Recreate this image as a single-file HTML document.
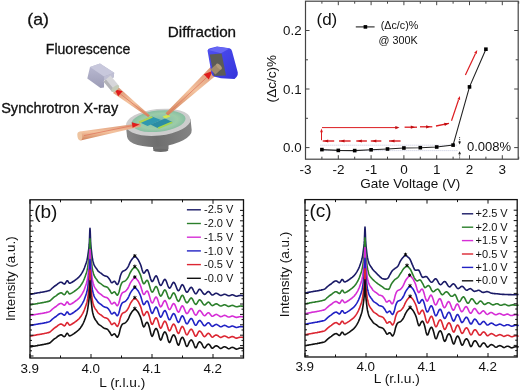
<!DOCTYPE html><html><head><meta charset="utf-8"><style>html,body{margin:0;padding:0;background:#fff;overflow:hidden;width:520px;height:391px;}svg{display:block;will-change:transform;}text{font-family:"Liberation Sans",sans-serif;}</style></head><body><svg width="520" height="391" viewBox="0 0 520 391" font-family="Liberation Sans, sans-serif" fill="#111"><rect width="520" height="391" fill="#fff"/><defs>
<linearGradient id="side" x1="0" x2="1" y1="0" y2="0"><stop offset="0" stop-color="#868686"/><stop offset="0.45" stop-color="#6e6e6e"/><stop offset="1" stop-color="#848484"/></linearGradient>
<linearGradient id="beam" x1="0" x2="0" y1="0" y2="1"><stop offset="0" stop-color="#d89070"/><stop offset="0.5" stop-color="#f4c4a0"/><stop offset="1" stop-color="#d08058"/></linearGradient>
<linearGradient id="blue" x1="0" x2="1" y1="0" y2="1"><stop offset="0" stop-color="#5050f0"/><stop offset="1" stop-color="#3434dc"/></linearGradient>
<linearGradient id="lav" x1="0" x2="0" y1="0" y2="1"><stop offset="0" stop-color="#bcbcd4"/><stop offset="1" stop-color="#9c9cb6"/></linearGradient>
<radialGradient id="disc" cx="0.5" cy="0.5" r="0.5"><stop offset="0" stop-color="#7cb8b0"/><stop offset="0.7" stop-color="#9ccca8"/><stop offset="1" stop-color="#88bea2"/></radialGradient>
</defs><rect x="153" y="139" width="15.5" height="11.5" rx="2" fill="#747474"/><ellipse cx="160.7" cy="150.3" rx="7.7" ry="1.6" fill="#6a6a6a"/><g transform="rotate(-6 158.2 122.3)"><path d="M125.7,122.3 V133.5 A32.5,13.2 0 0 0 190.7,133.5 V122.3 Z" fill="url(#side)"/><ellipse cx="158.2" cy="122.3" rx="32.5" ry="13.3" fill="#cdcdcd"/><ellipse cx="158.6" cy="121.2" rx="27.2" ry="10.6" fill="url(#disc)"/></g><path d="M139,122 L152,116.5 L161,120 L147.5,126 Z" fill="#2f98b0"/><path d="M150.5,124.5 L165,118.5 L172.5,122 L158,128.3 Z" fill="#2a8ca4"/><path d="M138.5,121.6 L151.5,116.2 L153,117.6 L140,123.2 Z" fill="#b0d450"/><path d="M157.5,127.6 L171.5,121.6 L172.8,123 L158.8,129 Z" fill="#a4d44e"/><path d="M162.5,116.5 L168,114.5 L170.5,116.5 L165,118.5 Z" fill="#d4e84c"/><path d="M80,131.6 L140,123.3 L141,126.6 L80.5,140.4 Z" fill="url(#beam)"/><ellipse cx="79.8" cy="136" rx="2.4" ry="4.4" transform="rotate(-8 79.8 136)" fill="#eec4a0"/><path d="M84,135.6 L133,125.5" stroke="#e07860" stroke-width="0.8"/><path d="M139.5,124.6 L131.8,122.3 L132.6,127.8 Z" fill="#e01c1c"/><path d="M113,93 L118.5,87.3 L150,115.5 L148,117 Z" fill="url(#beam)"/><path d="M116,90.5 L148.5,116" stroke="#e07860" stroke-width="0.8"/><path d="M114.5,89.3 L122.6,91.3 L118.2,96.3 Z" fill="#e01c1c"/><path d="M165.5,113.2 L211.8,65.8 L219.2,72.8 L168,115.6 Z" fill="url(#beam)"/><path d="M167,114.5 L215.5,69.2" stroke="#e07860" stroke-width="0.8"/><path d="M212.5,71 L203.8,74.2 L208.8,79.6 Z" fill="#e01c1c"/><path d="M90,67 L100,63.5 L114.2,72.8 L113.6,77.6 L104.2,80 L104,87.6 L100.5,88 L87.3,78.6 Z" fill="url(#lav)"/><path d="M90,67 L100,63.5 L114.2,72.8 L104,76.6 Z" fill="#c8c8dc"/><path d="M104,76.6 L114.2,72.8 L113.6,77.6 L104.2,80 Z" fill="#c0c0d4"/><path d="M103.5,81.5 L110.5,75.5 L118.8,85.5 L111.8,91.5 Z" fill="#d6d6da"/><path d="M103.5,81.5 L106,79.4 L114.2,89.4 L111.8,91.5 Z" fill="#b4b4b8"/><ellipse cx="115.3" cy="88.5" rx="4.6" ry="2.2" transform="rotate(-40 115.3 88.5)" fill="#c4ccb8"/><path d="M207.5,50.5 Q208,48.8 210,48.2 L217,46.5 L229.5,48.3 Q231.5,48.8 232,51 L237.8,72.5 Q238.2,75 236.5,77 L234.5,79 L221,78.2 L213.8,76.5 Q212,75.5 211.5,73.5 Z" fill="url(#blue)"/><path d="M208.2,50 L217,46.7 L229.5,48.4 L221,53.2 Z" fill="#6767f4"/><path d="M209.6,54.4 L221.6,53.6 L226,75.4 L214,76 Z" fill="#5c5c56"/><path d="M210.4,69.4 L216.6,63.9 L221.4,69.1 L215.4,74.6 Z" fill="#a08a6c"/><ellipse cx="219" cy="66.5" rx="3.6" ry="1.8" transform="rotate(47 219 66.5)" fill="#b09a7a"/><g stroke="#111" stroke-width="0.3"><text x="27.3" y="24.6" font-size="17" textLength="21.6" lengthAdjust="spacingAndGlyphs">(a)</text><text x="45.8" y="54.2" font-size="14.5" textLength="84.6" lengthAdjust="spacingAndGlyphs">Fluorescence</text><text x="167.8" y="37.3" font-size="14.5" textLength="68.3" lengthAdjust="spacingAndGlyphs">Diffraction</text><text x="1.2" y="113" font-size="14.5" textLength="117" lengthAdjust="spacingAndGlyphs">Synchrotron X-ray</text></g><path d="M305.5,159.2 V155.2 M305.5,1.2 V5.2 M321.9,159.2 V156.7 M321.9,1.2 V3.7 M338.3,159.2 V155.2 M338.3,1.2 V5.2 M354.7,159.2 V156.7 M354.7,1.2 V3.7 M371.1,159.2 V155.2 M371.1,1.2 V5.2 M387.5,159.2 V156.7 M387.5,1.2 V3.7 M403.9,159.2 V155.2 M403.9,1.2 V5.2 M420.3,159.2 V156.7 M420.3,1.2 V3.7 M436.7,159.2 V155.2 M436.7,1.2 V5.2 M453.1,159.2 V156.7 M453.1,1.2 V3.7 M469.5,159.2 V155.2 M469.5,1.2 V5.2 M485.9,159.2 V156.7 M485.9,1.2 V3.7 M502.3,159.2 V155.2 M502.3,1.2 V5.2 M518.7,159.2 V156.7 M518.7,1.2 V3.7 M305.5,147.6 h4 M518.2,147.6 h-4 M305.5,118.3 h2.5 M518.2,118.3 h-2.5 M305.5,89.0 h4 M518.2,89.0 h-4 M305.5,59.8 h2.5 M518.2,59.8 h-2.5 M305.5,30.5 h4 M518.2,30.5 h-4" stroke="#444" stroke-width="1" fill="none"/><rect x="305.5" y="1.2" width="212.70000000000005" height="158.0" fill="none" stroke="#444" stroke-width="1.2"/><text x="305.6" y="173.7" text-anchor="middle" font-size="13.5">-3</text><text x="338.4" y="173.7" text-anchor="middle" font-size="13.5">-2</text><text x="371.2" y="173.7" text-anchor="middle" font-size="13.5">-1</text><text x="403.9" y="173.7" text-anchor="middle" font-size="13.5">0</text><text x="436.7" y="173.7" text-anchor="middle" font-size="13.5">1</text><text x="469.5" y="173.7" text-anchor="middle" font-size="13.5">2</text><text x="502.3" y="173.7" text-anchor="middle" font-size="13.5">3</text><text x="301.6" y="152.4" text-anchor="end" font-size="13.3">0.0</text><text x="301.6" y="93.8" text-anchor="end" font-size="13.3">0.1</text><text x="301.6" y="35.3" text-anchor="end" font-size="13.3">0.2</text><text x="360.2" y="188" font-size="13.4" textLength="100" lengthAdjust="spacingAndGlyphs">Gate Voltage (V)</text><text transform="translate(275.6,102.4) rotate(-90)" font-size="13.5" textLength="47.6" lengthAdjust="spacingAndGlyphs">(&#916;c/c)%</text><path d="M320.5,145.2 H457 M320.5,150.6 H458.5" stroke="#9098c0" stroke-width="0.7" stroke-dasharray="0.8,1.2"/><path d="M322,127.6 H398" stroke="#dc1c20" stroke-width="1"/><path d="M399.5,127.6 L395.3,129.2 L395.3,126.0 Z" fill="#c00c10"/><path d="M404.6,127.2 H417" stroke="#dc1c20" stroke-width="1.3"/><path d="M415.0,127.2 L410.8,128.8 L410.8,125.6 Z" fill="#c00c10"/><path d="M420,126.8 H432.3" stroke="#dc1c20" stroke-width="1.3"/><path d="M430.3,126.8 L426.1,128.4 L426.1,125.2 Z" fill="#c00c10"/><path d="M436,126 L449,123.4" stroke="#dc1c20" stroke-width="1.3"/><path d="M448.5,123.5 L444.8,125.9 L444.1,122.8 Z" fill="#c00c10"/><path d="M451.5,120.8 L458.5,100" stroke="#dc1c20" stroke-width="1.2"/><path d="M460.0,96.0 L460.1,100.1 L457.4,99.2 Z" fill="#dc1c20"/><path d="M465.4,74.9 L475.5,53.5" stroke="#dc1c20" stroke-width="1.2"/><path d="M477.2,50.0 L476.8,54.1 L474.2,52.8 Z" fill="#dc1c20"/><path d="M321.5,140.2 V132" stroke="#dc1c20" stroke-width="1"/><path d="M321.5,128.6 L322.9,132.3 L320.1,132.3 Z" fill="#dc1c20"/><path d="M322.7,141 H334.2" stroke="#dc1c20" stroke-width="1.4"/><path d="M323.9,141.0 L328.2,139.4 L328.2,142.6 Z" fill="#c00c10"/><path d="M339,141 H350.6" stroke="#dc1c20" stroke-width="1.4"/><path d="M340.2,141.0 L344.5,139.4 L344.5,142.6 Z" fill="#c00c10"/><path d="M356.3,141 H366.9" stroke="#dc1c20" stroke-width="1.4"/><path d="M357.5,141.0 L361.8,139.4 L361.8,142.6 Z" fill="#c00c10"/><path d="M370.8,141 H381.3" stroke="#dc1c20" stroke-width="1.4"/><path d="M372.0,141.0 L376.3,139.4 L376.3,142.6 Z" fill="#c00c10"/><path d="M389,141 H400.6" stroke="#dc1c20" stroke-width="1.4"/><path d="M390.2,141.0 L394.5,139.4 L394.5,142.6 Z" fill="#c00c10"/><path d="M321.9,149.6 L338.3,150.4 L354.7,150.6 L371.1,149.8 L387.5,149.0 L403.9,148.0 L420.3,147.7 L436.7,147.0 L453.1,145.1 L469.5,86.9 L485.9,49.2" stroke="#222" stroke-width="1.1" fill="none"/><rect x="320.1" y="147.8" width="3.6" height="3.6" fill="#000"/><rect x="336.5" y="148.6" width="3.6" height="3.6" fill="#000"/><rect x="352.9" y="148.8" width="3.6" height="3.6" fill="#000"/><rect x="369.3" y="148.0" width="3.6" height="3.6" fill="#000"/><rect x="385.7" y="147.2" width="3.6" height="3.6" fill="#000"/><rect x="402.1" y="146.2" width="3.6" height="3.6" fill="#000"/><rect x="418.5" y="145.9" width="3.6" height="3.6" fill="#000"/><rect x="434.9" y="145.2" width="3.6" height="3.6" fill="#000"/><rect x="451.3" y="143.3" width="3.6" height="3.6" fill="#000"/><rect x="467.7" y="85.1" width="3.6" height="3.6" fill="#000"/><rect x="484.1" y="47.4" width="3.6" height="3.6" fill="#000"/><path d="M459.6,137 V142" stroke="#222" stroke-width="0.8" stroke-dasharray="1.2,0.8"/><path d="M458.2,141.6 L461,141.6 L459.6,144.6 Z" fill="#222"/><path d="M459.6,158.5 V153.8" stroke="#222" stroke-width="0.8" stroke-dasharray="1.2,0.8"/><path d="M458.2,154.2 L461,154.2 L459.6,151.2 Z" fill="#222"/><text x="466.9" y="150.8" font-size="13" textLength="44.2" lengthAdjust="spacingAndGlyphs">0.008%</text><path d="M355.8,26.9 H374.6" stroke="#222" stroke-width="1.1"/><rect x="363.6" y="25.1" width="3.6" height="3.6" fill="#000"/><text x="380.8" y="28.6" font-size="11" textLength="37.5" lengthAdjust="spacingAndGlyphs">(&#916;c/c)%</text><text x="378.5" y="43.7" font-size="11" textLength="39.2" lengthAdjust="spacingAndGlyphs">@ 300K</text><text x="316.5" y="24.5" font-size="17">(d)</text><g fill="none" stroke-width="1.6" stroke-linejoin="round"><path d="M30.0,294.4 L30.8,294.2 L31.6,294.1 L32.4,293.9 L33.2,293.7 L34.0,293.6 L34.8,293.4 L35.6,293.3 L36.4,293.1 L37.2,293.0 L38.0,292.8 L38.8,292.7 L39.6,292.6 L40.4,292.4 L41.2,292.3 L42.0,292.2 L42.8,292.0 L43.6,291.9 L44.4,291.7 L45.2,291.5 L46.0,291.4 L46.8,291.2 L47.6,291.0 L48.4,290.8 L49.2,290.6 L50.0,290.2 L50.8,289.5 L51.6,288.7 L52.4,288.0 L53.2,287.3 L54.0,286.6 L54.8,286.0 L55.6,285.5 L56.4,285.0 L57.2,284.3 L58.0,283.6 L58.8,283.1 L59.6,282.6 L60.4,282.3 L61.2,282.2 L62.0,282.5 L62.8,283.1 L63.6,283.8 L64.4,284.1 L65.2,283.5 L66.0,282.1 L66.8,280.8 L67.6,280.8 L68.4,282.0 L69.2,283.1 L70.0,283.3 L70.8,282.9 L71.6,282.5 L72.4,282.0 L73.2,281.5 L74.0,281.0 L74.8,280.4 L75.6,279.8 L76.4,279.2 L77.2,278.6 L78.0,277.9 L78.8,277.2 L79.6,276.3 L80.4,275.3 L81.2,274.2 L82.0,272.9 L82.8,271.5 L83.6,269.9 L84.4,268.0 L85.2,265.8 L86.0,263.5 L86.2,262.9 L86.4,262.3 L86.6,261.6 L86.8,260.9 L87.0,260.1 L87.2,259.2 L87.4,258.2 L87.6,257.1 L87.8,255.8 L88.0,254.4 L88.2,253.0 L88.4,251.5 L88.6,250.0 L88.8,248.5 L89.0,246.8 L89.2,244.7 L89.4,241.7 L89.6,236.3 L89.8,230.8 L90.0,228.3 L90.2,230.7 L90.4,236.2 L90.6,241.6 L90.8,244.8 L91.0,247.0 L91.2,248.9 L91.4,250.6 L91.6,252.4 L91.8,254.1 L92.0,255.7 L92.2,257.2 L92.4,258.5 L92.6,259.5 L92.8,260.4 L93.0,261.2 L93.2,262.0 L93.4,262.7 L93.6,263.4 L93.8,264.0 L94.0,264.6 L94.6,265.9 L95.2,266.9 L95.8,267.8 L96.4,268.5 L97.0,269.4 L97.6,270.4 L98.2,271.2 L98.8,271.7 L99.4,272.2 L100.0,272.6 L100.6,272.9 L101.2,273.4 L101.8,273.9 L102.4,274.4 L103.0,274.9 L103.6,275.3 L104.2,275.6 L104.8,275.9 L105.4,276.0 L106.0,276.2 L106.6,276.3 L107.2,276.6 L107.8,277.1 L108.4,277.7 L109.0,278.6 L109.6,279.4 L110.2,280.4 L110.8,281.6 L111.4,282.6 L112.0,282.8 L112.6,282.4 L113.2,281.9 L113.8,281.4 L114.4,281.2 L115.0,281.6 L115.6,282.5 L116.2,283.5 L116.8,284.3 L117.4,284.6 L118.0,283.9 L118.6,282.5 L119.2,280.9 L119.8,278.3 L120.4,275.8 L121.0,274.2 L121.6,272.8 L122.2,271.8 L122.8,271.3 L123.4,271.0 L124.0,270.8 L124.6,270.6 L125.2,270.2 L125.8,269.7 L126.4,269.1 L127.0,268.4 L127.6,267.5 L128.2,266.6 L128.8,265.3 L129.4,263.9 L130.0,262.5 L130.6,261.4 L131.2,260.4 L131.8,259.5 L132.4,258.7 L133.0,258.0 L133.6,257.4 L134.2,256.9 L134.8,256.6 L135.4,256.8 L136.0,257.2 L136.6,257.8 L137.2,258.5 L137.8,259.2 L138.4,260.1 L139.0,261.3 L139.6,262.5 L140.2,263.8 L140.8,265.3 L141.4,267.3 L142.0,269.4 L142.6,271.3 L143.2,272.7 L143.8,273.2 L144.4,272.9 L145.0,272.1 L145.6,271.2 L146.2,270.3 L146.8,269.8 L147.4,269.8 L148.0,270.7 L148.6,272.2 L149.2,274.1 L149.8,276.2 L150.4,278.2 L151.0,279.9 L151.6,281.1 L152.2,281.6 L152.8,281.2 L153.4,280.3 L154.0,279.0 L154.6,277.7 L155.2,276.6 L155.8,275.9 L156.4,275.9 L157.0,276.8 L157.6,278.2 L158.2,280.0 L158.8,281.9 L159.4,283.6 L160.0,284.9 L160.6,285.5 L161.2,285.3 L161.8,284.4 L162.4,283.3 L163.0,282.0 L163.6,280.7 L164.2,279.8 L164.8,279.3 L165.4,279.6 L166.0,280.6 L166.6,282.0 L167.2,283.7 L167.8,285.5 L168.4,286.9 L169.0,287.9 L169.6,288.2 L170.2,287.8 L170.8,286.9 L171.4,285.7 L172.0,284.4 L172.6,283.3 L173.2,282.5 L173.8,282.3 L174.4,282.8 L175.0,283.8 L175.6,285.2 L176.2,286.8 L176.8,288.4 L177.4,289.7 L178.0,290.5 L178.6,290.8 L179.2,290.2 L179.8,289.1 L180.4,287.7 L181.0,286.3 L181.6,285.2 L182.2,284.6 L182.8,284.9 L183.4,285.7 L184.0,287.0 L184.6,288.4 L185.2,289.9 L185.8,291.2 L186.4,292.0 L187.0,292.3 L187.6,291.9 L188.2,291.2 L188.8,290.2 L189.4,289.2 L190.0,288.3 L190.6,287.6 L191.2,287.3 L191.8,287.6 L192.4,288.4 L193.0,289.5 L193.6,290.8 L194.2,292.0 L194.8,293.0 L195.4,293.7 L196.0,293.8 L196.6,293.3 L197.2,292.4 L197.8,291.3 L198.4,290.3 L199.0,289.5 L199.6,289.2 L200.2,289.4 L200.8,290.0 L201.4,290.7 L202.0,291.6 L202.6,292.6 L203.2,293.4 L203.8,294.0 L204.4,294.4 L205.0,294.3 L205.6,293.9 L206.2,293.3 L206.8,292.6 L207.4,292.0 L208.0,291.6 L208.6,291.5 L209.2,291.9 L209.8,292.5 L210.4,293.3 L211.0,294.1 L211.6,294.7 L212.2,295.0 L212.8,294.9 L213.4,294.7 L214.0,294.3 L214.6,293.9 L215.2,293.5 L215.8,293.3 L216.4,293.2 L217.0,293.4 L217.6,293.7 L218.2,294.1 L218.8,294.5 L219.4,294.9 L220.0,295.2 L220.6,295.4 L221.2,295.4 L221.8,295.2 L222.4,294.9 L223.0,294.7 L223.6,294.4 L224.2,294.2 L224.8,294.2 L225.4,294.4 L226.0,294.6 L226.6,294.9 L227.2,295.3 L227.8,295.6 L228.4,295.8 L229.0,295.8 L229.6,295.7 L230.2,295.4 L230.8,295.2 L231.4,295.0 L232.0,294.8 L232.6,294.8 L233.2,295.0 L233.8,295.2 L234.4,295.5 L235.0,295.8 L235.6,296.0 L236.2,296.2 L236.8,296.2 L237.4,296.1 L238.0,295.9 L238.6,295.8 L239.2,295.6 L239.8,295.5 L240.4,295.4 L241.0,295.4 L241.6,295.5 L242.2,295.5 L242.8,295.6 L243.4,295.8 L243.5,295.8" stroke="#1a1a66"/><path d="M30.0,305.0 L30.8,304.8 L31.6,304.7 L32.4,304.5 L33.2,304.3 L34.0,304.2 L34.8,304.0 L35.6,303.9 L36.4,303.7 L37.2,303.6 L38.0,303.4 L38.8,303.3 L39.6,303.2 L40.4,303.0 L41.2,302.9 L42.0,302.8 L42.8,302.6 L43.6,302.5 L44.4,302.3 L45.2,302.1 L46.0,302.0 L46.8,301.8 L47.6,301.6 L48.4,301.4 L49.2,301.2 L50.0,300.8 L50.8,300.1 L51.6,299.3 L52.4,298.6 L53.2,297.9 L54.0,297.2 L54.8,296.6 L55.6,296.1 L56.4,295.6 L57.2,294.9 L58.0,294.2 L58.8,293.7 L59.6,293.2 L60.4,292.9 L61.2,292.8 L62.0,293.1 L62.8,293.8 L63.6,294.4 L64.4,294.7 L65.2,294.1 L66.0,292.7 L66.8,291.4 L67.6,291.4 L68.4,292.6 L69.2,293.7 L70.0,293.9 L70.8,293.5 L71.6,293.1 L72.4,292.6 L73.2,292.1 L74.0,291.6 L74.8,291.0 L75.6,290.4 L76.4,289.8 L77.2,289.2 L78.0,288.5 L78.8,287.8 L79.6,286.9 L80.4,285.9 L81.2,284.8 L82.0,283.5 L82.8,282.1 L83.6,280.5 L84.4,278.6 L85.2,276.4 L86.0,274.1 L86.2,273.5 L86.4,272.9 L86.6,272.2 L86.8,271.5 L87.0,270.7 L87.2,269.8 L87.4,268.8 L87.6,267.7 L87.8,266.4 L88.0,265.0 L88.2,263.6 L88.4,262.1 L88.6,260.6 L88.8,259.1 L89.0,257.4 L89.2,255.3 L89.4,252.3 L89.6,246.9 L89.8,241.4 L90.0,238.9 L90.2,241.3 L90.4,246.8 L90.6,252.2 L90.8,255.4 L91.0,257.6 L91.2,259.5 L91.4,261.2 L91.6,263.0 L91.8,264.7 L92.0,266.3 L92.2,267.8 L92.4,269.1 L92.6,270.1 L92.8,271.0 L93.0,271.8 L93.2,272.6 L93.4,273.3 L93.6,274.0 L93.8,274.6 L94.0,275.2 L94.6,276.5 L95.2,277.5 L95.8,278.4 L96.4,279.1 L97.0,280.0 L97.6,281.0 L98.2,281.8 L98.8,282.3 L99.4,282.8 L100.0,283.2 L100.6,283.5 L101.2,284.0 L101.8,284.5 L102.4,285.0 L103.0,285.5 L103.6,285.9 L104.2,286.2 L104.8,286.5 L105.4,286.6 L106.0,286.8 L106.6,286.9 L107.2,287.2 L107.8,287.7 L108.4,288.3 L109.0,289.2 L109.6,290.0 L110.2,291.0 L110.8,292.2 L111.4,293.2 L112.0,293.4 L112.6,293.0 L113.2,292.5 L113.8,292.0 L114.4,291.8 L115.0,292.2 L115.6,293.1 L116.2,294.1 L116.8,294.9 L117.4,295.2 L118.0,294.5 L118.6,293.1 L119.2,291.5 L119.8,288.9 L120.4,286.4 L121.0,284.8 L121.6,283.4 L122.2,282.4 L122.8,281.9 L123.4,281.6 L124.0,281.4 L124.6,281.2 L125.2,280.8 L125.8,280.3 L126.4,279.7 L127.0,279.0 L127.6,278.1 L128.2,277.2 L128.8,275.9 L129.4,274.5 L130.0,273.1 L130.6,272.0 L131.2,271.0 L131.8,270.1 L132.4,269.3 L133.0,268.6 L133.6,268.0 L134.2,267.5 L134.8,267.2 L135.4,267.4 L136.0,267.8 L136.6,268.4 L137.2,269.1 L137.8,269.8 L138.4,270.7 L139.0,271.9 L139.6,273.1 L140.2,274.4 L140.8,275.9 L141.4,277.9 L142.0,280.0 L142.6,281.9 L143.2,283.3 L143.8,283.8 L144.4,283.5 L145.0,282.7 L145.6,281.8 L146.2,280.9 L146.8,280.4 L147.4,280.4 L148.0,281.3 L148.6,282.8 L149.2,284.7 L149.8,286.8 L150.4,288.8 L151.0,290.5 L151.6,291.7 L152.2,292.2 L152.8,291.8 L153.4,290.9 L154.0,289.6 L154.6,288.3 L155.2,287.2 L155.8,286.5 L156.4,286.5 L157.0,287.4 L157.6,288.8 L158.2,290.6 L158.8,292.5 L159.4,294.2 L160.0,295.5 L160.6,296.1 L161.2,295.9 L161.8,295.0 L162.4,293.9 L163.0,292.6 L163.6,291.3 L164.2,290.4 L164.8,289.9 L165.4,290.2 L166.0,291.2 L166.6,292.6 L167.2,294.3 L167.8,296.1 L168.4,297.5 L169.0,298.5 L169.6,298.8 L170.2,298.4 L170.8,297.5 L171.4,296.3 L172.0,295.0 L172.6,293.9 L173.2,293.1 L173.8,292.9 L174.4,293.4 L175.0,294.4 L175.6,295.8 L176.2,297.4 L176.8,299.0 L177.4,300.3 L178.0,301.1 L178.6,301.4 L179.2,300.8 L179.8,299.7 L180.4,298.3 L181.0,296.9 L181.6,295.8 L182.2,295.2 L182.8,295.5 L183.4,296.3 L184.0,297.6 L184.6,299.1 L185.2,300.5 L185.8,301.8 L186.4,302.6 L187.0,302.9 L187.6,302.5 L188.2,301.8 L188.8,300.8 L189.4,299.8 L190.0,298.9 L190.6,298.2 L191.2,297.9 L191.8,298.2 L192.4,299.0 L193.0,300.1 L193.6,301.4 L194.2,302.6 L194.8,303.6 L195.4,304.3 L196.0,304.4 L196.6,303.9 L197.2,303.0 L197.8,301.9 L198.4,300.9 L199.0,300.1 L199.6,299.8 L200.2,300.0 L200.8,300.6 L201.4,301.3 L202.0,302.2 L202.6,303.2 L203.2,304.0 L203.8,304.6 L204.4,305.0 L205.0,304.9 L205.6,304.5 L206.2,303.9 L206.8,303.2 L207.4,302.6 L208.0,302.2 L208.6,302.1 L209.2,302.5 L209.8,303.1 L210.4,303.9 L211.0,304.7 L211.6,305.3 L212.2,305.6 L212.8,305.5 L213.4,305.3 L214.0,304.9 L214.6,304.5 L215.2,304.1 L215.8,303.9 L216.4,303.8 L217.0,304.0 L217.6,304.3 L218.2,304.7 L218.8,305.1 L219.4,305.5 L220.0,305.8 L220.6,306.0 L221.2,306.0 L221.8,305.8 L222.4,305.5 L223.0,305.3 L223.6,305.0 L224.2,304.8 L224.8,304.8 L225.4,305.0 L226.0,305.2 L226.6,305.5 L227.2,305.9 L227.8,306.2 L228.4,306.4 L229.0,306.4 L229.6,306.3 L230.2,306.0 L230.8,305.8 L231.4,305.6 L232.0,305.4 L232.6,305.4 L233.2,305.6 L233.8,305.8 L234.4,306.1 L235.0,306.4 L235.6,306.6 L236.2,306.8 L236.8,306.8 L237.4,306.7 L238.0,306.5 L238.6,306.4 L239.2,306.2 L239.8,306.1 L240.4,306.0 L241.0,306.0 L241.6,306.1 L242.2,306.1 L242.8,306.2 L243.4,306.4 L243.5,306.4" stroke="#2b7f2b"/><path d="M30.0,315.6 L30.8,315.4 L31.6,315.3 L32.4,315.1 L33.2,314.9 L34.0,314.8 L34.8,314.6 L35.6,314.5 L36.4,314.3 L37.2,314.2 L38.0,314.0 L38.8,313.9 L39.6,313.8 L40.4,313.6 L41.2,313.5 L42.0,313.4 L42.8,313.2 L43.6,313.1 L44.4,312.9 L45.2,312.7 L46.0,312.6 L46.8,312.4 L47.6,312.2 L48.4,312.0 L49.2,311.8 L50.0,311.4 L50.8,310.7 L51.6,309.9 L52.4,309.2 L53.2,308.5 L54.0,307.8 L54.8,307.2 L55.6,306.7 L56.4,306.2 L57.2,305.5 L58.0,304.8 L58.8,304.3 L59.6,303.8 L60.4,303.5 L61.2,303.4 L62.0,303.7 L62.8,304.3 L63.6,305.0 L64.4,305.3 L65.2,304.7 L66.0,303.3 L66.8,302.0 L67.6,302.0 L68.4,303.2 L69.2,304.3 L70.0,304.5 L70.8,304.1 L71.6,303.7 L72.4,303.2 L73.2,302.7 L74.0,302.2 L74.8,301.6 L75.6,301.0 L76.4,300.4 L77.2,299.8 L78.0,299.1 L78.8,298.4 L79.6,297.5 L80.4,296.5 L81.2,295.4 L82.0,294.1 L82.8,292.7 L83.6,291.1 L84.4,289.2 L85.2,287.0 L86.0,284.7 L86.2,284.1 L86.4,283.5 L86.6,282.8 L86.8,282.1 L87.0,281.3 L87.2,280.4 L87.4,279.4 L87.6,278.3 L87.8,277.0 L88.0,275.6 L88.2,274.2 L88.4,272.7 L88.6,271.2 L88.8,269.7 L89.0,268.0 L89.2,265.9 L89.4,262.9 L89.6,257.5 L89.8,252.0 L90.0,249.5 L90.2,251.9 L90.4,257.4 L90.6,262.8 L90.8,266.0 L91.0,268.2 L91.2,270.1 L91.4,271.8 L91.6,273.6 L91.8,275.3 L92.0,276.9 L92.2,278.4 L92.4,279.7 L92.6,280.7 L92.8,281.6 L93.0,282.4 L93.2,283.2 L93.4,283.9 L93.6,284.6 L93.8,285.2 L94.0,285.8 L94.6,287.1 L95.2,288.1 L95.8,289.0 L96.4,289.7 L97.0,290.6 L97.6,291.6 L98.2,292.4 L98.8,292.9 L99.4,293.4 L100.0,293.8 L100.6,294.1 L101.2,294.6 L101.8,295.1 L102.4,295.6 L103.0,296.1 L103.6,296.5 L104.2,296.8 L104.8,297.1 L105.4,297.2 L106.0,297.4 L106.6,297.5 L107.2,297.8 L107.8,298.3 L108.4,298.9 L109.0,299.8 L109.6,300.6 L110.2,301.6 L110.8,302.8 L111.4,303.8 L112.0,304.0 L112.6,303.6 L113.2,303.1 L113.8,302.6 L114.4,302.4 L115.0,302.8 L115.6,303.7 L116.2,304.7 L116.8,305.5 L117.4,305.8 L118.0,305.1 L118.6,303.7 L119.2,302.1 L119.8,299.5 L120.4,297.0 L121.0,295.4 L121.6,294.0 L122.2,293.0 L122.8,292.5 L123.4,292.2 L124.0,292.0 L124.6,291.8 L125.2,291.4 L125.8,290.9 L126.4,290.3 L127.0,289.6 L127.6,288.7 L128.2,287.8 L128.8,286.5 L129.4,285.1 L130.0,283.7 L130.6,282.6 L131.2,281.6 L131.8,280.7 L132.4,279.9 L133.0,279.2 L133.6,278.6 L134.2,278.1 L134.8,277.8 L135.4,278.0 L136.0,278.4 L136.6,279.0 L137.2,279.7 L137.8,280.4 L138.4,281.3 L139.0,282.5 L139.6,283.7 L140.2,285.0 L140.8,286.5 L141.4,288.5 L142.0,290.6 L142.6,292.5 L143.2,294.0 L143.8,294.5 L144.4,294.2 L145.0,293.4 L145.6,292.4 L146.2,291.5 L146.8,291.0 L147.4,291.0 L148.0,291.9 L148.6,293.4 L149.2,295.3 L149.8,297.4 L150.4,299.5 L151.0,301.3 L151.6,302.5 L152.2,303.0 L152.8,302.6 L153.4,301.6 L154.0,300.3 L154.6,298.9 L155.2,297.8 L155.8,297.1 L156.4,297.1 L157.0,298.0 L157.6,299.4 L158.2,301.2 L158.8,303.2 L159.4,304.9 L160.0,306.3 L160.6,306.9 L161.2,306.6 L161.8,305.8 L162.4,304.5 L163.0,303.2 L163.6,301.9 L164.2,301.0 L164.8,300.5 L165.4,300.8 L166.0,301.8 L166.6,303.2 L167.2,304.9 L167.8,306.7 L168.4,308.3 L169.0,309.3 L169.6,309.6 L170.2,309.1 L170.8,308.1 L171.4,306.9 L172.0,305.6 L172.6,304.5 L173.2,303.7 L173.8,303.5 L174.4,304.0 L175.0,305.0 L175.6,306.4 L176.2,308.0 L176.8,309.6 L177.4,311.0 L178.0,311.9 L178.6,312.2 L179.2,311.6 L179.8,310.4 L180.4,308.9 L181.0,307.5 L181.6,306.4 L182.2,305.8 L182.8,306.1 L183.4,306.9 L184.0,308.2 L184.6,309.6 L185.2,311.2 L185.8,312.5 L186.4,313.4 L187.0,313.6 L187.6,313.3 L188.2,312.5 L188.8,311.5 L189.4,310.4 L190.0,309.5 L190.6,308.8 L191.2,308.5 L191.8,308.8 L192.4,309.6 L193.0,310.7 L193.6,312.0 L194.2,313.3 L194.8,314.3 L195.4,315.0 L196.0,315.1 L196.6,314.6 L197.2,313.6 L197.8,312.5 L198.4,311.5 L199.0,310.7 L199.6,310.4 L200.2,310.6 L200.8,311.2 L201.4,311.9 L202.0,312.8 L202.6,313.8 L203.2,314.7 L203.8,315.3 L204.4,315.7 L205.0,315.6 L205.6,315.2 L206.2,314.5 L206.8,313.8 L207.4,313.2 L208.0,312.8 L208.6,312.7 L209.2,313.1 L209.8,313.7 L210.4,314.5 L211.0,315.3 L211.6,316.0 L212.2,316.3 L212.8,316.2 L213.4,315.9 L214.0,315.5 L214.6,315.1 L215.2,314.7 L215.8,314.5 L216.4,314.4 L217.0,314.6 L217.6,314.9 L218.2,315.3 L218.8,315.7 L219.4,316.1 L220.0,316.5 L220.6,316.6 L221.2,316.6 L221.8,316.4 L222.4,316.2 L223.0,315.9 L223.6,315.6 L224.2,315.4 L224.8,315.4 L225.4,315.6 L226.0,315.8 L226.6,316.1 L227.2,316.5 L227.8,316.8 L228.4,317.0 L229.0,317.0 L229.6,316.9 L230.2,316.7 L230.8,316.4 L231.4,316.2 L232.0,316.0 L232.6,316.0 L233.2,316.2 L233.8,316.4 L234.4,316.7 L235.0,317.0 L235.6,317.3 L236.2,317.4 L236.8,317.4 L237.4,317.3 L238.0,317.1 L238.6,317.0 L239.2,316.8 L239.8,316.7 L240.4,316.6 L241.0,316.6 L241.6,316.7 L242.2,316.7 L242.8,316.8 L243.4,317.0 L243.5,317.0" stroke="#d62ed6"/><path d="M30.0,325.6 L30.8,325.4 L31.6,325.3 L32.4,325.1 L33.2,324.9 L34.0,324.8 L34.8,324.6 L35.6,324.5 L36.4,324.3 L37.2,324.2 L38.0,324.0 L38.8,323.9 L39.6,323.8 L40.4,323.6 L41.2,323.5 L42.0,323.4 L42.8,323.2 L43.6,323.1 L44.4,322.9 L45.2,322.7 L46.0,322.6 L46.8,322.4 L47.6,322.2 L48.4,322.0 L49.2,321.8 L50.0,321.4 L50.8,320.7 L51.6,319.9 L52.4,319.2 L53.2,318.5 L54.0,317.8 L54.8,317.2 L55.6,316.7 L56.4,316.2 L57.2,315.5 L58.0,314.8 L58.8,314.3 L59.6,313.8 L60.4,313.5 L61.2,313.4 L62.0,313.7 L62.8,314.3 L63.6,315.0 L64.4,315.3 L65.2,314.7 L66.0,313.3 L66.8,312.0 L67.6,312.0 L68.4,313.2 L69.2,314.3 L70.0,314.5 L70.8,314.1 L71.6,313.7 L72.4,313.2 L73.2,312.7 L74.0,312.2 L74.8,311.6 L75.6,311.0 L76.4,310.4 L77.2,309.8 L78.0,309.1 L78.8,308.4 L79.6,307.5 L80.4,306.5 L81.2,305.4 L82.0,304.1 L82.8,302.7 L83.6,301.1 L84.4,299.2 L85.2,297.0 L86.0,294.7 L86.2,294.1 L86.4,293.5 L86.6,292.8 L86.8,292.1 L87.0,291.3 L87.2,290.4 L87.4,289.4 L87.6,288.3 L87.8,287.0 L88.0,285.6 L88.2,284.2 L88.4,282.7 L88.6,281.2 L88.8,279.7 L89.0,278.0 L89.2,275.9 L89.4,272.9 L89.6,267.5 L89.8,262.0 L90.0,259.5 L90.2,261.9 L90.4,267.4 L90.6,272.8 L90.8,276.0 L91.0,278.2 L91.2,280.1 L91.4,281.8 L91.6,283.6 L91.8,285.3 L92.0,286.9 L92.2,288.4 L92.4,289.7 L92.6,290.7 L92.8,291.6 L93.0,292.4 L93.2,293.2 L93.4,293.9 L93.6,294.6 L93.8,295.2 L94.0,295.8 L94.6,297.1 L95.2,298.1 L95.8,299.0 L96.4,299.7 L97.0,300.6 L97.6,301.6 L98.2,302.4 L98.8,302.9 L99.4,303.4 L100.0,303.8 L100.6,304.1 L101.2,304.6 L101.8,305.1 L102.4,305.6 L103.0,306.1 L103.6,306.5 L104.2,306.8 L104.8,307.1 L105.4,307.2 L106.0,307.4 L106.6,307.5 L107.2,307.8 L107.8,308.3 L108.4,308.9 L109.0,309.8 L109.6,310.6 L110.2,311.6 L110.8,312.8 L111.4,313.8 L112.0,314.0 L112.6,313.6 L113.2,313.1 L113.8,312.6 L114.4,312.4 L115.0,312.8 L115.6,313.7 L116.2,314.7 L116.8,315.5 L117.4,315.8 L118.0,315.1 L118.6,313.7 L119.2,312.1 L119.8,309.5 L120.4,307.0 L121.0,305.4 L121.6,304.0 L122.2,303.0 L122.8,302.5 L123.4,302.2 L124.0,302.0 L124.6,301.8 L125.2,301.4 L125.8,300.9 L126.4,300.3 L127.0,299.6 L127.6,298.7 L128.2,297.8 L128.8,296.5 L129.4,295.1 L130.0,293.7 L130.6,292.6 L131.2,291.6 L131.8,290.7 L132.4,289.9 L133.0,289.2 L133.6,288.6 L134.2,288.1 L134.8,287.8 L135.4,288.0 L136.0,288.4 L136.6,289.0 L137.2,289.7 L137.8,290.4 L138.4,291.3 L139.0,292.5 L139.6,293.7 L140.2,295.0 L140.8,296.5 L141.4,298.5 L142.0,300.6 L142.6,302.6 L143.2,304.1 L143.8,304.7 L144.4,304.3 L145.0,303.5 L145.6,302.4 L146.2,301.5 L146.8,301.0 L147.4,301.0 L148.0,301.9 L148.6,303.4 L149.2,305.3 L149.8,307.4 L150.4,309.6 L151.0,311.5 L151.6,312.8 L152.2,313.3 L152.8,312.8 L153.4,311.7 L154.0,310.3 L154.6,308.9 L155.2,307.8 L155.8,307.1 L156.4,307.1 L157.0,308.0 L157.6,309.4 L158.2,311.2 L158.8,313.2 L159.4,315.1 L160.0,316.5 L160.6,317.2 L161.2,316.9 L161.8,315.9 L162.4,314.6 L163.0,313.2 L163.6,311.9 L164.2,311.0 L164.8,310.5 L165.4,310.8 L166.0,311.8 L166.6,313.2 L167.2,314.9 L167.8,316.8 L168.4,318.4 L169.0,319.5 L169.6,319.8 L170.2,319.3 L170.8,318.3 L171.4,316.9 L172.0,315.6 L172.6,314.5 L173.2,313.7 L173.8,313.5 L174.4,314.0 L175.0,315.0 L175.6,316.4 L176.2,318.1 L176.8,319.8 L177.4,321.2 L178.0,322.2 L178.6,322.4 L179.2,321.8 L179.8,320.5 L180.4,318.9 L181.0,317.5 L181.6,316.4 L182.2,315.8 L182.8,316.1 L183.4,316.9 L184.0,318.2 L184.6,319.6 L185.2,321.3 L185.8,322.7 L186.4,323.6 L187.0,323.9 L187.6,323.5 L188.2,322.6 L188.8,321.5 L189.4,320.4 L190.0,319.5 L190.6,318.8 L191.2,318.5 L191.8,318.8 L192.4,319.6 L193.0,320.7 L193.6,322.0 L194.2,323.4 L194.8,324.5 L195.4,325.2 L196.0,325.3 L196.6,324.7 L197.2,323.7 L197.8,322.5 L198.4,321.5 L199.0,320.7 L199.6,320.4 L200.2,320.6 L200.8,321.2 L201.4,321.9 L202.0,322.8 L202.6,323.8 L203.2,324.8 L203.8,325.5 L204.4,325.8 L205.0,325.7 L205.6,325.2 L206.2,324.5 L206.8,323.8 L207.4,323.2 L208.0,322.8 L208.6,322.7 L209.2,323.1 L209.8,323.7 L210.4,324.5 L211.0,325.4 L211.6,326.1 L212.2,326.4 L212.8,326.3 L213.4,326.0 L214.0,325.5 L214.6,325.1 L215.2,324.7 L215.8,324.5 L216.4,324.4 L217.0,324.6 L217.6,324.9 L218.2,325.3 L218.8,325.7 L219.4,326.2 L220.0,326.5 L220.6,326.7 L221.2,326.7 L221.8,326.5 L222.4,326.2 L223.0,325.9 L223.6,325.6 L224.2,325.4 L224.8,325.4 L225.4,325.6 L226.0,325.8 L226.6,326.1 L227.2,326.5 L227.8,326.8 L228.4,327.0 L229.0,327.1 L229.6,326.9 L230.2,326.7 L230.8,326.4 L231.4,326.2 L232.0,326.0 L232.6,326.0 L233.2,326.2 L233.8,326.4 L234.4,326.7 L235.0,327.0 L235.6,327.3 L236.2,327.5 L236.8,327.5 L237.4,327.3 L238.0,327.2 L238.6,327.0 L239.2,326.8 L239.8,326.7 L240.4,326.6 L241.0,326.6 L241.6,326.7 L242.2,326.7 L242.8,326.8 L243.4,327.0 L243.5,327.0" stroke="#2222c4"/><path d="M30.0,336.2 L30.8,336.0 L31.6,335.9 L32.4,335.7 L33.2,335.5 L34.0,335.4 L34.8,335.2 L35.6,335.1 L36.4,334.9 L37.2,334.8 L38.0,334.6 L38.8,334.5 L39.6,334.4 L40.4,334.2 L41.2,334.1 L42.0,334.0 L42.8,333.8 L43.6,333.7 L44.4,333.5 L45.2,333.3 L46.0,333.2 L46.8,333.0 L47.6,332.8 L48.4,332.6 L49.2,332.4 L50.0,332.0 L50.8,331.3 L51.6,330.5 L52.4,329.8 L53.2,329.1 L54.0,328.4 L54.8,327.8 L55.6,327.3 L56.4,326.8 L57.2,326.1 L58.0,325.4 L58.8,324.9 L59.6,324.4 L60.4,324.1 L61.2,324.0 L62.0,324.3 L62.8,324.9 L63.6,325.6 L64.4,325.9 L65.2,325.3 L66.0,323.9 L66.8,322.6 L67.6,322.6 L68.4,323.8 L69.2,324.9 L70.0,325.1 L70.8,324.7 L71.6,324.3 L72.4,323.8 L73.2,323.3 L74.0,322.8 L74.8,322.2 L75.6,321.6 L76.4,321.0 L77.2,320.4 L78.0,319.7 L78.8,319.0 L79.6,318.1 L80.4,317.1 L81.2,316.0 L82.0,314.7 L82.8,313.3 L83.6,311.7 L84.4,309.8 L85.2,307.6 L86.0,305.3 L86.2,304.7 L86.4,304.1 L86.6,303.4 L86.8,302.7 L87.0,301.9 L87.2,301.0 L87.4,300.0 L87.6,298.9 L87.8,297.6 L88.0,296.2 L88.2,294.8 L88.4,293.3 L88.6,291.8 L88.8,290.3 L89.0,288.6 L89.2,286.5 L89.4,283.5 L89.6,278.1 L89.8,272.6 L90.0,270.1 L90.2,272.5 L90.4,278.0 L90.6,283.4 L90.8,286.6 L91.0,288.8 L91.2,290.7 L91.4,292.4 L91.6,294.2 L91.8,295.9 L92.0,297.5 L92.2,299.0 L92.4,300.3 L92.6,301.3 L92.8,302.2 L93.0,303.0 L93.2,303.8 L93.4,304.5 L93.6,305.2 L93.8,305.8 L94.0,306.4 L94.6,307.7 L95.2,308.7 L95.8,309.6 L96.4,310.3 L97.0,311.2 L97.6,312.2 L98.2,313.0 L98.8,313.5 L99.4,314.0 L100.0,314.4 L100.6,314.7 L101.2,315.2 L101.8,315.7 L102.4,316.2 L103.0,316.7 L103.6,317.1 L104.2,317.4 L104.8,317.7 L105.4,317.8 L106.0,318.0 L106.6,318.1 L107.2,318.4 L107.8,318.9 L108.4,319.5 L109.0,320.4 L109.6,321.2 L110.2,322.2 L110.8,323.4 L111.4,324.4 L112.0,324.6 L112.6,324.2 L113.2,323.7 L113.8,323.2 L114.4,323.0 L115.0,323.4 L115.6,324.3 L116.2,325.3 L116.8,326.1 L117.4,326.4 L118.0,325.7 L118.6,324.3 L119.2,322.7 L119.8,320.1 L120.4,317.6 L121.0,316.0 L121.6,314.6 L122.2,313.6 L122.8,313.1 L123.4,312.8 L124.0,312.6 L124.6,312.4 L125.2,312.0 L125.8,311.5 L126.4,310.9 L127.0,310.2 L127.6,309.3 L128.2,308.4 L128.8,307.1 L129.4,305.7 L130.0,304.3 L130.6,303.2 L131.2,302.2 L131.8,301.3 L132.4,300.5 L133.0,299.8 L133.6,299.2 L134.2,298.7 L134.8,298.4 L135.4,298.6 L136.0,299.0 L136.6,299.6 L137.2,300.3 L137.8,301.0 L138.4,301.9 L139.0,303.1 L139.6,304.3 L140.2,305.6 L140.8,307.1 L141.4,309.1 L142.0,311.3 L142.6,313.4 L143.2,315.0 L143.8,315.6 L144.4,315.2 L145.0,314.2 L145.6,313.0 L146.2,312.1 L146.8,311.6 L147.4,311.6 L148.0,312.5 L148.6,314.0 L149.2,315.9 L149.8,318.1 L150.4,320.5 L151.0,322.6 L151.6,324.0 L152.2,324.4 L152.8,323.9 L153.4,322.6 L154.0,320.9 L154.6,319.5 L155.2,318.4 L155.8,317.7 L156.4,317.7 L157.0,318.6 L157.6,320.0 L158.2,321.8 L158.8,324.0 L159.4,326.1 L160.0,327.6 L160.6,328.3 L161.2,327.9 L161.8,326.9 L162.4,325.3 L163.0,323.8 L163.6,322.5 L164.2,321.6 L164.8,321.1 L165.4,321.4 L166.0,322.4 L166.6,323.8 L167.2,325.5 L167.8,327.6 L168.4,329.4 L169.0,330.6 L169.6,330.9 L170.2,330.3 L170.8,329.1 L171.4,327.6 L172.0,326.2 L172.6,325.1 L173.2,324.3 L173.8,324.1 L174.4,324.6 L175.0,325.6 L175.6,327.0 L176.2,328.7 L176.8,330.6 L177.4,332.2 L178.0,333.2 L178.6,333.5 L179.2,332.8 L179.8,331.3 L180.4,329.5 L181.0,328.1 L181.6,327.0 L182.2,326.4 L182.8,326.7 L183.4,327.5 L184.0,328.8 L184.6,330.2 L185.2,332.0 L185.8,333.6 L186.4,334.6 L187.0,334.9 L187.6,334.4 L188.2,333.4 L188.8,332.2 L189.4,331.0 L190.0,330.1 L190.6,329.4 L191.2,329.1 L191.8,329.4 L192.4,330.2 L193.0,331.3 L193.6,332.6 L194.2,334.1 L194.8,335.4 L195.4,336.2 L196.0,336.3 L196.6,335.6 L197.2,334.5 L197.8,333.1 L198.4,332.1 L199.0,331.3 L199.6,331.0 L200.2,331.2 L200.8,331.8 L201.4,332.5 L202.0,333.4 L202.6,334.5 L203.2,335.5 L203.8,336.3 L204.4,336.7 L205.0,336.5 L205.6,336.0 L206.2,335.2 L206.8,334.4 L207.4,333.8 L208.0,333.4 L208.6,333.3 L209.2,333.7 L209.8,334.3 L210.4,335.1 L211.0,336.1 L211.6,336.8 L212.2,337.2 L212.8,337.0 L213.4,336.7 L214.0,336.2 L214.6,335.7 L215.2,335.3 L215.8,335.1 L216.4,335.0 L217.0,335.2 L217.6,335.5 L218.2,335.9 L218.8,336.4 L219.4,336.8 L220.0,337.2 L220.6,337.4 L221.2,337.4 L221.8,337.1 L222.4,336.8 L223.0,336.5 L223.6,336.2 L224.2,336.0 L224.8,336.0 L225.4,336.2 L226.0,336.4 L226.6,336.7 L227.2,337.1 L227.8,337.5 L228.4,337.7 L229.0,337.8 L229.6,337.6 L230.2,337.3 L230.8,337.0 L231.4,336.8 L232.0,336.6 L232.6,336.6 L233.2,336.8 L233.8,337.0 L234.4,337.3 L235.0,337.7 L235.6,338.0 L236.2,338.1 L236.8,338.1 L237.4,338.0 L238.0,337.8 L238.6,337.6 L239.2,337.4 L239.8,337.3 L240.4,337.2 L241.0,337.2 L241.6,337.3 L242.2,337.3 L242.8,337.4 L243.4,337.6 L243.5,337.6" stroke="#dc2632"/><path d="M30.0,347.0 L30.8,346.8 L31.6,346.7 L32.4,346.5 L33.2,346.3 L34.0,346.2 L34.8,346.0 L35.6,345.9 L36.4,345.7 L37.2,345.6 L38.0,345.4 L38.8,345.3 L39.6,345.2 L40.4,345.0 L41.2,344.9 L42.0,344.8 L42.8,344.6 L43.6,344.5 L44.4,344.3 L45.2,344.1 L46.0,344.0 L46.8,343.8 L47.6,343.6 L48.4,343.4 L49.2,343.2 L50.0,342.8 L50.8,342.1 L51.6,341.3 L52.4,340.6 L53.2,339.9 L54.0,339.2 L54.8,338.6 L55.6,338.1 L56.4,337.6 L57.2,336.9 L58.0,336.2 L58.8,335.7 L59.6,335.2 L60.4,334.9 L61.2,334.8 L62.0,335.1 L62.8,335.8 L63.6,336.4 L64.4,336.7 L65.2,336.1 L66.0,334.7 L66.8,333.4 L67.6,333.4 L68.4,334.6 L69.2,335.7 L70.0,335.9 L70.8,335.5 L71.6,335.1 L72.4,334.6 L73.2,334.1 L74.0,333.6 L74.8,333.0 L75.6,332.4 L76.4,331.8 L77.2,331.2 L78.0,330.5 L78.8,329.8 L79.6,328.9 L80.4,327.9 L81.2,326.8 L82.0,325.5 L82.8,324.1 L83.6,322.5 L84.4,320.6 L85.2,318.4 L86.0,316.1 L86.2,315.5 L86.4,314.9 L86.6,314.2 L86.8,313.5 L87.0,312.7 L87.2,311.8 L87.4,310.8 L87.6,309.7 L87.8,308.4 L88.0,307.0 L88.2,305.6 L88.4,304.1 L88.6,302.6 L88.8,301.1 L89.0,299.4 L89.2,297.3 L89.4,294.3 L89.6,288.9 L89.8,283.4 L90.0,280.9 L90.2,283.3 L90.4,288.8 L90.6,294.2 L90.8,297.4 L91.0,299.6 L91.2,301.5 L91.4,303.2 L91.6,305.0 L91.8,306.7 L92.0,308.3 L92.2,309.8 L92.4,311.1 L92.6,312.1 L92.8,313.0 L93.0,313.8 L93.2,314.6 L93.4,315.3 L93.6,316.0 L93.8,316.6 L94.0,317.2 L94.6,318.5 L95.2,319.5 L95.8,320.4 L96.4,321.1 L97.0,322.0 L97.6,323.0 L98.2,323.8 L98.8,324.3 L99.4,324.8 L100.0,325.2 L100.6,325.5 L101.2,326.0 L101.8,326.5 L102.4,327.0 L103.0,327.5 L103.6,327.9 L104.2,328.2 L104.8,328.5 L105.4,328.6 L106.0,328.8 L106.6,328.9 L107.2,329.2 L107.8,329.7 L108.4,330.3 L109.0,331.2 L109.6,332.0 L110.2,333.0 L110.8,334.2 L111.4,335.2 L112.0,335.4 L112.6,335.0 L113.2,334.5 L113.8,334.0 L114.4,333.8 L115.0,334.2 L115.6,335.1 L116.2,336.1 L116.8,336.9 L117.4,337.2 L118.0,336.5 L118.6,335.1 L119.2,333.5 L119.8,330.9 L120.4,328.4 L121.0,326.8 L121.6,325.4 L122.2,324.4 L122.8,323.9 L123.4,323.6 L124.0,323.4 L124.6,323.2 L125.2,322.8 L125.8,322.3 L126.4,321.7 L127.0,321.0 L127.6,320.1 L128.2,319.2 L128.8,317.9 L129.4,316.5 L130.0,315.1 L130.6,314.0 L131.2,313.0 L131.8,312.1 L132.4,311.3 L133.0,310.6 L133.6,310.0 L134.2,309.5 L134.8,309.2 L135.4,309.4 L136.0,309.8 L136.6,310.4 L137.2,311.1 L137.8,311.8 L138.4,312.7 L139.0,313.9 L139.6,315.1 L140.2,316.4 L140.8,317.9 L141.4,319.9 L142.0,322.3 L142.6,324.5 L143.2,326.3 L143.8,327.0 L144.4,326.5 L145.0,325.3 L145.6,323.8 L146.2,322.9 L146.8,322.4 L147.4,322.4 L148.0,323.3 L148.6,324.8 L149.2,326.7 L149.8,329.0 L150.4,331.8 L151.0,334.2 L151.6,335.8 L152.2,336.3 L152.8,335.5 L153.4,333.9 L154.0,331.9 L154.6,330.3 L155.2,329.2 L155.8,328.5 L156.4,328.5 L157.0,329.4 L157.6,330.8 L158.2,332.6 L158.8,335.0 L159.4,337.5 L160.0,339.3 L160.6,340.1 L161.2,339.6 L161.8,338.3 L162.4,336.4 L163.0,334.6 L163.6,333.3 L164.2,332.4 L164.8,331.9 L165.4,332.2 L166.0,333.2 L166.6,334.6 L167.2,336.3 L167.8,338.8 L168.4,340.9 L169.0,342.3 L169.6,342.6 L170.2,341.9 L170.8,340.4 L171.4,338.5 L172.0,337.0 L172.6,335.9 L173.2,335.1 L173.8,334.9 L174.4,335.4 L175.0,336.4 L175.6,337.8 L176.2,339.6 L176.8,341.8 L177.4,343.7 L178.0,344.9 L178.6,345.2 L179.2,344.3 L179.8,342.5 L180.4,340.3 L181.0,338.9 L181.6,337.8 L182.2,337.2 L182.8,337.5 L183.4,338.3 L184.0,339.6 L184.6,341.1 L185.2,343.1 L185.8,345.0 L186.4,346.2 L187.0,346.4 L187.6,345.8 L188.2,344.6 L188.8,343.1 L189.4,341.8 L190.0,340.9 L190.6,340.2 L191.2,339.9 L191.8,340.2 L192.4,341.0 L193.0,342.1 L193.6,343.5 L194.2,345.3 L194.8,346.8 L195.4,347.7 L196.0,347.7 L196.6,346.9 L197.2,345.5 L197.8,343.9 L198.4,342.9 L199.0,342.1 L199.6,341.8 L200.2,342.0 L200.8,342.6 L201.4,343.3 L202.0,344.2 L202.6,345.5 L203.2,346.7 L203.8,347.5 L204.4,348.0 L205.0,347.8 L205.6,347.1 L206.2,346.1 L206.8,345.2 L207.4,344.6 L208.0,344.2 L208.6,344.1 L209.2,344.5 L209.8,345.1 L210.4,345.9 L211.0,347.1 L211.6,347.9 L212.2,348.3 L212.8,348.2 L213.4,347.7 L214.0,347.1 L214.6,346.5 L215.2,346.1 L215.8,345.9 L216.4,345.8 L217.0,346.0 L217.6,346.3 L218.2,346.7 L218.8,347.2 L219.4,347.8 L220.0,348.2 L220.6,348.4 L221.2,348.4 L221.8,348.1 L222.4,347.6 L223.0,347.3 L223.6,347.0 L224.2,346.8 L224.8,346.8 L225.4,347.0 L226.0,347.2 L226.6,347.5 L227.2,348.0 L227.8,348.4 L228.4,348.7 L229.0,348.7 L229.6,348.5 L230.2,348.2 L230.8,347.8 L231.4,347.6 L232.0,347.4 L232.6,347.4 L233.2,347.6 L233.8,347.8 L234.4,348.1 L235.0,348.5 L235.6,348.9 L236.2,349.1 L236.8,349.1 L237.4,348.9 L238.0,348.7 L238.6,348.4 L239.2,348.2 L239.8,348.1 L240.4,348.0 L241.0,348.0 L241.6,348.1 L242.2,348.1 L242.8,348.2 L243.4,348.4 L243.5,348.5" stroke="#111111"/></g><path d="M134.8,254.0 L134.8,257.6 M133.2,254.9 L136.4,256.7 M136.4,254.9 L133.2,256.7" stroke="#000" stroke-width="1"/><path d="M134.8,264.6 L134.8,268.2 M133.2,265.5 L136.4,267.3 M136.4,265.5 L133.2,267.3" stroke="#000" stroke-width="1"/><path d="M134.8,275.2 L134.8,278.8 M133.2,276.1 L136.4,277.9 M136.4,276.1 L133.2,277.9" stroke="#000" stroke-width="1"/><path d="M134.8,285.2 L134.8,288.8 M133.2,286.1 L136.4,287.9 M136.4,286.1 L133.2,287.9" stroke="#000" stroke-width="1"/><path d="M134.8,295.8 L134.8,299.4 M133.2,296.7 L136.4,298.5 M136.4,296.7 L133.2,298.5" stroke="#000" stroke-width="1"/><path d="M134.8,306.6 L134.8,310.2 M133.2,307.5 L136.4,309.3 M136.4,307.5 L133.2,309.3" stroke="#000" stroke-width="1"/><path d="M30.0,358 V354 M30.0,199.8 V203.8 M60.5,358 V355.5 M60.5,199.8 V202.3 M91.0,358 V354 M91.0,199.8 V203.8 M121.5,358 V355.5 M121.5,199.8 V202.3 M152.0,358 V354 M152.0,199.8 V203.8 M182.5,358 V355.5 M182.5,199.8 V202.3 M213.0,358 V354 M213.0,199.8 V203.8 M243.5,358 V355.5 M243.5,199.8 V202.3 M30,210.4 h3.5 M243.5,210.4 h-3.5 M30,215.6 h2 M243.5,215.6 h-2 M30,220.8 h3.5 M243.5,220.8 h-3.5 M30,226.0 h2 M243.5,226.0 h-2 M30,231.2 h3.5 M243.5,231.2 h-3.5 M30,236.4 h2 M243.5,236.4 h-2 M30,241.6 h3.5 M243.5,241.6 h-3.5 M30,246.8 h2 M243.5,246.8 h-2 M30,252.0 h3.5 M243.5,252.0 h-3.5 M30,257.2 h2 M243.5,257.2 h-2 M30,262.4 h3.5 M243.5,262.4 h-3.5 M30,267.6 h2 M243.5,267.6 h-2 M30,272.8 h3.5 M243.5,272.8 h-3.5 M30,278.0 h2 M243.5,278.0 h-2 M30,283.2 h3.5 M243.5,283.2 h-3.5 M30,288.4 h2 M243.5,288.4 h-2 M30,293.6 h3.5 M243.5,293.6 h-3.5 M30,298.8 h2 M243.5,298.8 h-2 M30,304.0 h3.5 M243.5,304.0 h-3.5 M30,309.2 h2 M243.5,309.2 h-2 M30,314.4 h3.5 M243.5,314.4 h-3.5 M30,319.6 h2 M243.5,319.6 h-2 M30,324.8 h3.5 M243.5,324.8 h-3.5 M30,330.0 h2 M243.5,330.0 h-2 M30,335.2 h3.5 M243.5,335.2 h-3.5 M30,340.4 h2 M243.5,340.4 h-2 M30,345.6 h3.5 M243.5,345.6 h-3.5 M30,350.8 h2 M243.5,350.8 h-2 M30,356.0 h3.5 M243.5,356.0 h-3.5" stroke="#111" stroke-width="1" fill="none"/><rect x="30" y="199.8" width="213.5" height="158.2" fill="none" stroke="#111" stroke-width="1.3"/><text x="29.7" y="372.7" text-anchor="middle" font-size="13.4">3.9</text><text x="90.7" y="372.7" text-anchor="middle" font-size="13.4">4.0</text><text x="151.7" y="372.7" text-anchor="middle" font-size="13.4">4.1</text><text x="212.7" y="372.7" text-anchor="middle" font-size="13.4">4.2</text><text x="99.3" y="386.7" font-size="13.5" textLength="46.0" lengthAdjust="spacingAndGlyphs">L (r.l.u.)</text><text transform="translate(15.4,321.1) rotate(-90)" font-size="13" textLength="84.7" lengthAdjust="spacingAndGlyphs">Intensity (a.u.)</text><path d="M186.9,209.8 h14" stroke="#1a1a66" stroke-width="1.4"/><text x="204" y="213.4" font-size="11">-2.5 V</text><path d="M186.9,223.5 h14" stroke="#2b7f2b" stroke-width="1.4"/><text x="204" y="227.1" font-size="11">-2.0 V</text><path d="M186.9,237.2 h14" stroke="#d62ed6" stroke-width="1.4"/><text x="204" y="240.8" font-size="11">-1.5 V</text><path d="M186.9,250.9 h14" stroke="#2222c4" stroke-width="1.4"/><text x="204" y="254.5" font-size="11">-1.0 V</text><path d="M186.9,264.6 h14" stroke="#dc2632" stroke-width="1.4"/><text x="204" y="268.2" font-size="11">-0.5 V</text><path d="M186.9,278.3 h14" stroke="#111111" stroke-width="1.4"/><text x="204" y="281.9" font-size="11">-0.0 V</text><text x="34.2" y="218.4" font-size="19">(b)</text><g fill="none" stroke-width="1.6" stroke-linejoin="round"><path d="M305.0,293.1 L305.8,292.9 L306.6,292.8 L307.4,292.6 L308.2,292.4 L309.0,292.3 L309.8,292.1 L310.6,292.0 L311.4,291.8 L312.2,291.7 L313.0,291.5 L313.8,291.4 L314.6,291.3 L315.4,291.1 L316.2,291.0 L317.0,290.9 L317.8,290.7 L318.6,290.6 L319.4,290.4 L320.2,290.2 L321.0,290.1 L321.8,289.9 L322.6,289.7 L323.4,289.5 L324.2,289.3 L325.0,288.9 L325.8,288.2 L326.6,287.4 L327.4,286.7 L328.2,286.0 L329.0,285.3 L329.8,284.7 L330.6,284.2 L331.4,283.7 L332.2,283.0 L333.0,282.3 L333.8,281.8 L334.6,281.3 L335.4,281.0 L336.2,280.9 L337.0,281.2 L337.8,281.8 L338.6,282.5 L339.4,282.8 L340.2,282.2 L341.0,280.8 L341.8,279.5 L342.6,279.5 L343.4,280.7 L344.2,281.8 L345.0,282.0 L345.8,281.6 L346.6,281.2 L347.4,280.7 L348.2,280.2 L349.0,279.7 L349.8,279.1 L350.6,278.5 L351.4,277.9 L352.2,277.3 L353.0,276.6 L353.8,275.9 L354.6,275.0 L355.4,274.0 L356.2,272.9 L357.0,271.6 L357.8,270.2 L358.6,268.6 L359.4,266.7 L360.2,264.5 L361.0,262.2 L361.2,261.6 L361.4,261.0 L361.6,260.3 L361.8,259.6 L362.0,258.8 L362.2,257.9 L362.4,256.9 L362.6,255.8 L362.8,254.5 L363.0,253.1 L363.2,251.7 L363.4,250.2 L363.6,248.7 L363.8,247.2 L364.0,245.5 L364.2,243.4 L364.4,240.4 L364.6,235.0 L364.8,229.5 L365.0,227.0 L365.2,229.4 L365.4,234.9 L365.6,240.3 L365.8,243.5 L366.0,245.7 L366.2,247.6 L366.4,249.3 L366.6,251.1 L366.8,252.8 L367.0,254.4 L367.2,255.9 L367.4,257.2 L367.6,258.2 L367.8,259.1 L368.0,259.9 L368.2,260.7 L368.4,261.4 L368.6,262.1 L368.8,262.7 L369.0,263.3 L369.6,264.6 L370.2,265.6 L370.8,266.6 L371.4,267.4 L372.0,268.3 L372.6,269.2 L373.2,269.9 L373.8,270.6 L374.4,271.2 L375.0,271.8 L375.6,272.4 L376.2,273.0 L376.8,273.6 L377.4,274.2 L378.0,274.9 L378.6,275.4 L379.2,276.0 L379.8,276.6 L380.4,277.2 L381.0,277.7 L381.6,278.2 L382.2,278.5 L382.8,278.7 L383.4,278.9 L384.0,279.0 L384.6,279.1 L385.2,279.1 L385.8,279.1 L386.4,278.9 L387.0,278.7 L387.6,278.4 L388.2,277.9 L388.8,277.0 L389.4,275.7 L390.0,274.5 L390.6,273.5 L391.2,272.4 L391.8,271.4 L392.4,270.6 L393.0,270.0 L393.6,269.5 L394.2,269.1 L394.8,268.7 L395.4,268.2 L396.0,267.8 L396.6,267.4 L397.2,266.9 L397.8,266.3 L398.4,265.3 L399.0,264.0 L399.6,262.6 L400.2,261.4 L400.8,260.4 L401.4,259.5 L402.0,258.6 L402.6,257.9 L403.2,257.3 L403.8,256.6 L404.4,256.0 L405.0,255.6 L405.6,255.4 L406.2,255.6 L406.8,256.0 L407.4,256.6 L408.0,257.1 L408.6,257.6 L409.2,258.1 L409.8,258.9 L410.4,260.0 L411.0,261.4 L411.6,262.9 L412.2,264.4 L412.8,265.6 L413.4,267.1 L414.0,268.5 L414.6,269.6 L415.2,270.3 L415.8,270.3 L416.4,270.2 L417.0,270.1 L417.6,270.0 L418.2,270.0 L418.8,270.3 L419.4,271.2 L420.0,272.5 L420.6,273.9 L421.2,275.3 L421.8,276.5 L422.4,277.2 L423.0,277.4 L423.6,277.3 L424.2,277.0 L424.8,276.8 L425.4,276.6 L426.0,276.5 L426.6,276.7 L427.2,277.2 L427.8,277.9 L428.4,278.7 L429.0,279.6 L429.6,280.5 L430.2,281.3 L430.8,281.9 L431.4,282.3 L432.0,282.2 L432.6,281.8 L433.2,281.1 L433.8,280.3 L434.4,279.5 L435.0,278.9 L435.6,278.7 L436.2,279.0 L436.8,279.6 L437.4,280.6 L438.0,281.7 L438.6,282.8 L439.2,283.8 L439.8,284.4 L440.4,284.7 L441.0,284.5 L441.6,284.1 L442.2,283.5 L442.8,282.8 L443.4,282.2 L444.0,281.7 L444.6,281.5 L445.2,281.7 L445.8,282.2 L446.4,283.1 L447.0,284.0 L447.6,285.0 L448.2,285.9 L448.8,286.6 L449.4,286.9 L450.0,286.8 L450.6,286.3 L451.2,285.6 L451.8,284.9 L452.4,284.3 L453.0,283.9 L453.6,283.8 L454.2,284.2 L454.8,284.8 L455.4,285.6 L456.0,286.5 L456.6,287.4 L457.2,288.1 L457.8,288.5 L458.4,288.6 L459.0,288.3 L459.6,287.9 L460.2,287.4 L460.8,286.8 L461.4,286.5 L462.0,286.3 L462.6,286.5 L463.2,286.9 L463.8,287.5 L464.4,288.2 L465.0,289.0 L465.6,289.6 L466.2,290.0 L466.8,290.2 L467.4,290.1 L468.0,289.7 L468.6,289.3 L469.2,288.9 L469.8,288.7 L470.4,288.6 L471.0,288.9 L471.6,289.3 L472.2,289.9 L472.8,290.4 L473.4,290.9 L474.0,291.3 L474.6,291.4 L475.2,291.3 L475.8,291.1 L476.4,290.9 L477.0,290.7 L477.6,290.5 L478.2,290.3 L478.8,290.3 L479.4,290.5 L480.0,290.8 L480.6,291.2 L481.2,291.6 L481.8,292.0 L482.4,292.3 L483.0,292.4 L483.6,292.4 L484.2,292.2 L484.8,292.1 L485.4,291.9 L486.0,291.7 L486.6,291.6 L487.2,291.6 L487.8,291.7 L488.4,291.9 L489.0,292.1 L489.6,292.4 L490.2,292.7 L490.8,292.9 L491.4,293.2 L492.0,293.3 L492.6,293.4 L493.2,293.5 L493.8,293.5 L494.4,293.6 L495.0,293.6 L495.6,293.7 L496.2,293.7 L496.8,293.8 L497.4,293.8 L498.0,293.9 L498.6,294.0 L499.2,294.0 L499.8,294.1 L500.4,294.2 L501.0,294.2 L501.6,294.3 L502.2,294.4 L502.8,294.4 L503.4,294.4 L504.0,294.4 L504.6,294.5 L505.2,294.5 L505.8,294.5 L506.4,294.5 L507.0,294.5 L507.6,294.5 L508.2,294.6 L508.8,294.6 L509.4,294.6 L510.0,294.6 L510.6,294.6 L511.2,294.6 L511.8,294.7 L512.4,294.7 L513.0,294.7 L513.6,294.7 L514.2,294.7 L514.8,294.7 L515.4,294.8 L516.0,294.8 L516.6,294.8 L517.2,294.5 L517.8,294.5 L518.4,294.5 L518.5,294.5" stroke="#1a1a66"/><path d="M305.0,303.9 L305.8,303.7 L306.6,303.6 L307.4,303.4 L308.2,303.2 L309.0,303.1 L309.8,302.9 L310.6,302.8 L311.4,302.6 L312.2,302.5 L313.0,302.3 L313.8,302.2 L314.6,302.1 L315.4,301.9 L316.2,301.8 L317.0,301.7 L317.8,301.5 L318.6,301.4 L319.4,301.2 L320.2,301.0 L321.0,300.9 L321.8,300.7 L322.6,300.5 L323.4,300.3 L324.2,300.1 L325.0,299.7 L325.8,299.0 L326.6,298.2 L327.4,297.5 L328.2,296.8 L329.0,296.1 L329.8,295.5 L330.6,295.0 L331.4,294.5 L332.2,293.8 L333.0,293.1 L333.8,292.6 L334.6,292.1 L335.4,291.8 L336.2,291.7 L337.0,292.0 L337.8,292.6 L338.6,293.3 L339.4,293.6 L340.2,293.0 L341.0,291.6 L341.8,290.3 L342.6,290.3 L343.4,291.5 L344.2,292.6 L345.0,292.8 L345.8,292.4 L346.6,292.0 L347.4,291.5 L348.2,291.0 L349.0,290.5 L349.8,289.9 L350.6,289.3 L351.4,288.7 L352.2,288.1 L353.0,287.4 L353.8,286.7 L354.6,285.8 L355.4,284.8 L356.2,283.7 L357.0,282.4 L357.8,281.0 L358.6,279.4 L359.4,277.5 L360.2,275.3 L361.0,273.0 L361.2,272.4 L361.4,271.8 L361.6,271.1 L361.8,270.4 L362.0,269.6 L362.2,268.7 L362.4,267.7 L362.6,266.6 L362.8,265.3 L363.0,263.9 L363.2,262.5 L363.4,261.0 L363.6,259.5 L363.8,258.0 L364.0,256.3 L364.2,254.2 L364.4,251.2 L364.6,245.8 L364.8,240.3 L365.0,237.8 L365.2,240.2 L365.4,245.7 L365.6,251.1 L365.8,254.3 L366.0,256.5 L366.2,258.4 L366.4,260.1 L366.6,261.9 L366.8,263.6 L367.0,265.2 L367.2,266.7 L367.4,268.0 L367.6,269.0 L367.8,269.9 L368.0,270.7 L368.2,271.6 L368.4,272.4 L368.6,273.2 L368.8,273.8 L369.0,274.3 L369.6,275.6 L370.2,276.5 L370.8,277.2 L371.4,277.9 L372.0,278.6 L372.6,279.2 L373.2,279.9 L373.8,280.4 L374.4,281.0 L375.0,281.5 L375.6,282.0 L376.2,282.5 L376.8,283.0 L377.4,283.4 L378.0,283.9 L378.6,284.3 L379.2,284.7 L379.8,285.1 L380.4,285.5 L381.0,285.9 L381.6,286.3 L382.2,286.7 L382.8,287.1 L383.4,287.6 L384.0,288.1 L384.6,288.5 L385.2,288.8 L385.8,289.0 L386.4,289.1 L387.0,289.3 L387.6,289.3 L388.2,289.4 L388.8,289.3 L389.4,288.5 L390.0,287.3 L390.6,285.8 L391.2,284.4 L391.8,283.4 L392.4,282.5 L393.0,281.7 L393.6,280.9 L394.2,280.2 L394.8,279.6 L395.4,279.2 L396.0,278.8 L396.6,278.4 L397.2,278.0 L397.8,277.5 L398.4,276.8 L399.0,275.9 L399.6,274.9 L400.2,273.9 L400.8,273.0 L401.4,272.1 L402.0,271.1 L402.6,270.1 L403.2,269.2 L403.8,268.5 L404.4,267.9 L405.0,267.4 L405.6,266.9 L406.2,266.5 L406.8,266.3 L407.4,266.4 L408.0,266.7 L408.6,267.2 L409.2,267.9 L409.8,268.6 L410.4,269.4 L411.0,270.5 L411.6,271.8 L412.2,273.2 L412.8,274.5 L413.4,275.9 L414.0,277.3 L414.6,278.5 L415.2,279.4 L415.8,280.0 L416.4,280.5 L417.0,280.9 L417.6,280.9 L418.2,280.6 L418.8,280.3 L419.4,280.0 L420.0,279.9 L420.6,280.3 L421.2,281.1 L421.8,282.1 L422.4,283.2 L423.0,284.2 L423.6,285.5 L424.2,286.8 L424.8,287.6 L425.4,287.5 L426.0,287.1 L426.6,286.6 L427.2,286.1 L427.8,285.7 L428.4,285.5 L429.0,285.7 L429.6,286.4 L430.2,287.4 L430.8,288.6 L431.4,289.8 L432.0,290.8 L432.6,291.5 L433.2,291.7 L433.8,291.5 L434.4,291.2 L435.0,290.7 L435.6,290.2 L436.2,289.7 L436.8,289.4 L437.4,289.1 L438.0,289.2 L438.6,289.7 L439.2,290.5 L439.8,291.5 L440.4,292.6 L441.0,293.6 L441.6,294.4 L442.2,294.7 L442.8,294.6 L443.4,294.2 L444.0,293.6 L444.6,292.9 L445.2,292.3 L445.8,291.9 L446.4,291.7 L447.0,291.9 L447.6,292.3 L448.2,293.0 L448.8,293.8 L449.4,294.6 L450.0,295.3 L450.6,295.9 L451.2,296.3 L451.8,296.3 L452.4,296.2 L453.0,296.0 L453.6,295.5 L454.2,294.8 L454.8,294.4 L455.4,294.8 L456.0,296.0 L456.6,297.4 L457.2,298.9 L457.8,300.3 L458.4,301.3 L459.0,301.8 L459.6,301.6 L460.2,301.0 L460.8,300.1 L461.4,299.0 L462.0,298.0 L462.6,297.3 L463.2,296.8 L463.8,296.9 L464.4,297.6 L465.0,298.6 L465.6,299.8 L466.2,301.1 L466.8,302.2 L467.4,303.0 L468.0,303.3 L468.6,303.0 L469.2,302.2 L469.8,301.2 L470.4,300.1 L471.0,299.2 L471.6,298.7 L472.2,298.8 L472.8,299.2 L473.4,300.0 L474.0,300.8 L474.6,301.8 L475.2,302.6 L475.8,303.4 L476.4,303.8 L477.0,303.9 L477.6,303.6 L478.2,303.0 L478.8,302.3 L479.4,301.7 L480.0,301.2 L480.6,301.0 L481.2,301.2 L481.8,301.8 L482.4,302.5 L483.0,303.3 L483.6,304.0 L484.2,304.4 L484.8,304.5 L485.4,304.3 L486.0,303.9 L486.6,303.5 L487.2,303.1 L487.8,302.8 L488.4,302.7 L489.0,302.8 L489.6,303.1 L490.2,303.4 L490.8,303.9 L491.4,304.3 L492.0,304.6 L492.6,304.9 L493.2,304.9 L493.8,304.8 L494.4,304.5 L495.0,304.3 L495.6,304.0 L496.2,303.8 L496.8,303.7 L497.4,303.8 L498.0,304.0 L498.6,304.3 L499.2,304.7 L499.8,305.0 L500.4,305.2 L501.0,305.3 L501.6,305.2 L502.2,305.0 L502.8,304.8 L503.4,304.5 L504.0,304.4 L504.6,304.3 L505.2,304.4 L505.8,304.6 L506.4,304.9 L507.0,305.2 L507.6,305.5 L508.2,305.6 L508.8,305.7 L509.4,305.6 L510.0,305.5 L510.6,305.3 L511.2,305.1 L511.8,305.0 L512.4,304.9 L513.0,304.9 L513.6,304.9 L514.2,305.0 L514.8,305.1 L515.4,305.2 L516.0,305.3 L516.6,305.3 L517.2,305.3 L517.8,305.3 L518.4,305.3 L518.5,305.3" stroke="#2b7f2b"/><path d="M305.0,313.7 L305.8,313.5 L306.6,313.4 L307.4,313.2 L308.2,313.0 L309.0,312.9 L309.8,312.7 L310.6,312.6 L311.4,312.4 L312.2,312.3 L313.0,312.1 L313.8,312.0 L314.6,311.9 L315.4,311.7 L316.2,311.6 L317.0,311.5 L317.8,311.3 L318.6,311.2 L319.4,311.0 L320.2,310.8 L321.0,310.7 L321.8,310.5 L322.6,310.3 L323.4,310.1 L324.2,309.9 L325.0,309.5 L325.8,308.8 L326.6,308.0 L327.4,307.3 L328.2,306.6 L329.0,305.9 L329.8,305.3 L330.6,304.8 L331.4,304.3 L332.2,303.6 L333.0,302.9 L333.8,302.4 L334.6,301.9 L335.4,301.6 L336.2,301.5 L337.0,301.8 L337.8,302.4 L338.6,303.1 L339.4,303.4 L340.2,302.8 L341.0,301.4 L341.8,300.1 L342.6,300.1 L343.4,301.3 L344.2,302.4 L345.0,302.6 L345.8,302.2 L346.6,301.8 L347.4,301.3 L348.2,300.8 L349.0,300.3 L349.8,299.7 L350.6,299.1 L351.4,298.5 L352.2,297.9 L353.0,297.2 L353.8,296.5 L354.6,295.6 L355.4,294.6 L356.2,293.5 L357.0,292.2 L357.8,290.8 L358.6,289.2 L359.4,287.3 L360.2,285.1 L361.0,282.8 L361.2,282.2 L361.4,281.6 L361.6,280.9 L361.8,280.2 L362.0,279.4 L362.2,278.5 L362.4,277.5 L362.6,276.4 L362.8,275.1 L363.0,273.7 L363.2,272.3 L363.4,270.8 L363.6,269.3 L363.8,267.8 L364.0,266.1 L364.2,264.0 L364.4,261.0 L364.6,255.6 L364.8,250.1 L365.0,247.6 L365.2,250.0 L365.4,255.5 L365.6,260.9 L365.8,264.1 L366.0,266.3 L366.2,268.2 L366.4,269.9 L366.6,271.7 L366.8,273.4 L367.0,275.0 L367.2,276.5 L367.4,277.8 L367.6,278.8 L367.8,279.7 L368.0,280.5 L368.2,281.3 L368.4,282.0 L368.6,282.7 L368.8,283.3 L369.0,283.9 L369.6,285.2 L370.2,286.2 L370.8,287.1 L371.4,287.8 L372.0,288.7 L372.6,289.7 L373.2,290.5 L373.8,291.0 L374.4,291.5 L375.0,291.9 L375.6,292.3 L376.2,292.7 L376.8,293.2 L377.4,293.7 L378.0,294.2 L378.6,294.7 L379.2,295.0 L379.8,295.2 L380.4,295.3 L381.0,295.5 L381.6,295.7 L382.2,295.9 L382.8,296.4 L383.4,297.2 L384.0,298.0 L384.6,298.9 L385.2,299.9 L385.8,301.1 L386.4,302.0 L387.0,302.0 L387.6,301.7 L388.2,301.1 L388.8,300.7 L389.4,300.5 L390.0,301.0 L390.6,301.9 L391.2,303.0 L391.8,303.7 L392.4,303.8 L393.0,303.0 L393.6,301.6 L394.2,299.8 L394.8,297.1 L395.4,294.8 L396.0,293.2 L396.6,291.9 L397.2,291.0 L397.8,290.5 L398.4,290.3 L399.0,290.1 L399.6,289.8 L400.2,289.5 L400.8,288.9 L401.4,288.3 L402.0,287.5 L402.6,286.7 L403.2,285.7 L403.8,284.4 L404.4,283.0 L405.0,281.6 L405.6,280.5 L406.2,279.5 L406.8,278.7 L407.4,277.9 L408.0,277.2 L408.6,276.6 L409.2,276.1 L409.8,275.9 L410.4,276.1 L411.0,276.6 L411.6,277.2 L412.2,277.9 L412.8,278.6 L413.4,279.6 L414.0,280.8 L414.6,282.0 L415.2,283.3 L415.8,284.9 L416.4,286.9 L417.0,289.0 L417.6,290.9 L418.2,292.2 L418.8,292.6 L419.4,292.2 L420.0,291.3 L420.6,290.4 L421.2,289.5 L421.8,289.0 L422.4,289.2 L423.0,290.2 L423.6,291.8 L424.2,293.7 L424.8,295.9 L425.4,297.9 L426.0,299.7 L426.6,300.8 L427.2,301.1 L427.8,300.6 L428.4,299.5 L429.0,298.1 L429.6,296.8 L430.2,295.7 L430.8,295.1 L431.4,295.3 L432.0,296.3 L432.6,297.8 L433.2,299.6 L433.8,301.6 L434.4,303.3 L435.0,304.5 L435.6,305.0 L436.2,304.6 L436.8,303.7 L437.4,302.4 L438.0,301.0 L438.6,299.8 L439.2,298.9 L439.8,298.6 L440.4,299.0 L441.0,300.1 L441.6,301.6 L442.2,303.4 L442.8,305.1 L443.4,306.6 L444.0,307.5 L444.6,307.6 L445.2,307.1 L445.8,306.1 L446.4,304.8 L447.0,303.5 L447.6,302.4 L448.2,301.8 L448.8,301.6 L449.4,302.2 L450.0,303.3 L450.6,304.8 L451.2,306.4 L451.8,308.0 L452.4,309.3 L453.0,310.1 L453.6,310.2 L454.2,309.5 L454.8,308.3 L455.4,306.8 L456.0,305.4 L456.6,304.3 L457.2,303.9 L457.8,304.3 L458.4,305.2 L459.0,306.5 L459.6,308.0 L460.2,309.5 L460.8,310.8 L461.4,311.6 L462.0,311.7 L462.6,311.3 L463.2,310.4 L463.8,309.4 L464.4,308.3 L465.0,307.4 L465.6,306.8 L466.2,306.6 L466.8,307.0 L467.4,307.9 L468.0,309.0 L468.6,310.3 L469.2,311.6 L469.8,312.6 L470.4,313.2 L471.0,313.2 L471.6,312.5 L472.2,311.6 L472.8,310.4 L473.4,309.4 L474.0,308.7 L474.6,308.5 L475.2,308.8 L475.8,309.4 L476.4,310.2 L477.0,311.1 L477.6,312.1 L478.2,312.9 L478.8,313.5 L479.4,313.8 L480.0,313.6 L480.6,313.2 L481.2,312.5 L481.8,311.8 L482.4,311.2 L483.0,310.9 L483.6,310.9 L484.2,311.3 L484.8,312.0 L485.4,312.8 L486.0,313.6 L486.6,314.1 L487.2,314.4 L487.8,314.2 L488.4,313.9 L489.0,313.5 L489.6,313.1 L490.2,312.7 L490.8,312.5 L491.4,312.5 L492.0,312.7 L492.6,313.0 L493.2,313.5 L493.8,313.9 L494.4,314.3 L495.0,314.6 L495.6,314.7 L496.2,314.7 L496.8,314.5 L497.4,314.2 L498.0,313.9 L498.6,313.7 L499.2,313.5 L499.8,313.5 L500.4,313.7 L501.0,314.0 L501.6,314.3 L502.2,314.6 L502.8,314.9 L503.4,315.1 L504.0,315.1 L504.6,315.0 L505.2,314.7 L505.8,314.5 L506.4,314.2 L507.0,314.1 L507.6,314.1 L508.2,314.3 L508.8,314.6 L509.4,314.9 L510.0,315.2 L510.6,315.4 L511.2,315.5 L511.8,315.5 L512.4,315.4 L513.0,315.2 L513.6,315.0 L514.2,314.9 L514.8,314.7 L515.4,314.7 L516.0,314.7 L516.6,314.8 L517.2,314.8 L517.8,315.0 L518.4,315.1 L518.5,315.1" stroke="#d62ed6"/><path d="M305.0,324.3 L305.8,324.1 L306.6,324.0 L307.4,323.8 L308.2,323.6 L309.0,323.5 L309.8,323.3 L310.6,323.2 L311.4,323.0 L312.2,322.9 L313.0,322.7 L313.8,322.6 L314.6,322.5 L315.4,322.3 L316.2,322.2 L317.0,322.1 L317.8,321.9 L318.6,321.8 L319.4,321.6 L320.2,321.4 L321.0,321.3 L321.8,321.1 L322.6,320.9 L323.4,320.7 L324.2,320.5 L325.0,320.1 L325.8,319.4 L326.6,318.6 L327.4,317.9 L328.2,317.2 L329.0,316.5 L329.8,315.9 L330.6,315.4 L331.4,314.9 L332.2,314.2 L333.0,313.5 L333.8,313.0 L334.6,312.5 L335.4,312.2 L336.2,312.1 L337.0,312.4 L337.8,313.0 L338.6,313.7 L339.4,314.0 L340.2,313.4 L341.0,312.0 L341.8,310.7 L342.6,310.7 L343.4,311.9 L344.2,313.0 L345.0,313.2 L345.8,312.8 L346.6,312.4 L347.4,311.9 L348.2,311.4 L349.0,310.9 L349.8,310.3 L350.6,309.7 L351.4,309.1 L352.2,308.5 L353.0,307.8 L353.8,307.1 L354.6,306.2 L355.4,305.2 L356.2,304.1 L357.0,302.8 L357.8,301.4 L358.6,299.8 L359.4,297.9 L360.2,295.7 L361.0,293.4 L361.2,292.8 L361.4,292.2 L361.6,291.5 L361.8,290.8 L362.0,290.0 L362.2,289.1 L362.4,288.1 L362.6,287.0 L362.8,285.7 L363.0,284.3 L363.2,282.9 L363.4,281.4 L363.6,279.9 L363.8,278.4 L364.0,276.7 L364.2,274.6 L364.4,271.6 L364.6,266.2 L364.8,260.7 L365.0,258.2 L365.2,260.6 L365.4,266.1 L365.6,271.5 L365.8,274.7 L366.0,276.9 L366.2,278.8 L366.4,280.5 L366.6,282.3 L366.8,284.0 L367.0,285.6 L367.2,287.1 L367.4,288.4 L367.6,289.4 L367.8,290.3 L368.0,291.1 L368.2,291.9 L368.4,292.6 L368.6,293.3 L368.8,293.9 L369.0,294.5 L369.6,295.8 L370.2,296.8 L370.8,297.7 L371.4,298.4 L372.0,299.3 L372.6,300.3 L373.2,301.1 L373.8,301.6 L374.4,302.1 L375.0,302.4 L375.6,302.8 L376.2,303.2 L376.8,303.7 L377.4,304.2 L378.0,304.7 L378.6,305.2 L379.2,305.5 L379.8,305.7 L380.4,305.9 L381.0,306.0 L381.6,306.2 L382.2,306.4 L382.8,306.8 L383.4,307.4 L384.0,308.2 L384.6,309.1 L385.2,309.9 L385.8,311.1 L386.4,312.2 L387.0,312.7 L387.6,312.5 L388.2,312.0 L388.8,311.5 L389.4,311.1 L390.0,311.3 L390.6,312.0 L391.2,313.1 L391.8,314.0 L392.4,314.5 L393.0,314.1 L393.6,312.9 L394.2,311.4 L394.8,309.1 L395.4,306.4 L396.0,304.6 L396.6,303.1 L397.2,302.0 L397.8,301.3 L398.4,301.0 L399.0,300.8 L399.6,300.6 L400.2,300.3 L400.8,299.8 L401.4,299.2 L402.0,298.5 L402.6,297.7 L403.2,296.8 L403.8,295.6 L404.4,294.3 L405.0,292.9 L405.6,291.6 L406.2,290.6 L406.8,289.7 L407.4,288.9 L408.0,288.1 L408.6,287.5 L409.2,286.9 L409.8,286.5 L410.4,286.6 L411.0,286.9 L411.6,287.5 L412.2,288.1 L412.8,288.8 L413.4,289.7 L414.0,290.8 L414.6,292.0 L415.2,293.3 L415.8,294.6 L416.4,296.5 L417.0,298.6 L417.6,300.7 L418.2,302.4 L418.8,303.3 L419.4,303.2 L420.0,302.5 L420.6,301.5 L421.2,300.5 L421.8,299.8 L422.4,299.6 L423.0,300.2 L423.6,301.5 L424.2,303.3 L424.8,305.4 L425.4,307.6 L426.0,309.7 L426.6,311.2 L427.2,312.0 L427.8,311.8 L428.4,310.9 L429.0,309.5 L429.6,308.0 L430.2,306.8 L430.8,306.0 L431.4,305.7 L432.0,306.3 L432.6,307.6 L433.2,309.3 L433.8,311.2 L434.4,313.2 L435.0,314.8 L435.6,315.8 L436.2,315.8 L436.8,315.0 L437.4,313.8 L438.0,312.3 L438.6,311.0 L439.2,309.9 L439.8,309.3 L440.4,309.3 L441.0,310.1 L441.6,311.4 L442.2,313.1 L442.8,314.9 L443.4,316.7 L444.0,317.9 L444.6,318.5 L445.2,318.3 L445.8,317.4 L446.4,316.1 L447.0,314.7 L447.6,313.5 L448.2,312.6 L448.8,312.2 L449.4,312.5 L450.0,313.3 L450.6,314.6 L451.2,316.2 L451.8,317.9 L452.4,319.5 L453.0,320.6 L453.6,321.1 L454.2,320.8 L454.8,319.7 L455.4,318.2 L456.0,316.6 L456.6,315.4 L457.2,314.6 L457.8,314.6 L458.4,315.3 L459.0,316.4 L459.6,317.8 L460.2,319.4 L460.8,320.9 L461.4,322.1 L462.0,322.6 L462.6,322.3 L463.2,321.6 L463.8,320.6 L464.4,319.4 L465.0,318.4 L465.6,317.7 L466.2,317.2 L466.8,317.3 L467.4,318.0 L468.0,319.0 L468.6,320.2 L469.2,321.6 L469.8,322.8 L470.4,323.7 L471.0,324.0 L471.6,323.7 L472.2,322.8 L472.8,321.6 L473.4,320.5 L474.0,319.6 L474.6,319.1 L475.2,319.2 L475.8,319.6 L476.4,320.4 L477.0,321.2 L477.6,322.2 L478.2,323.2 L478.8,324.0 L479.4,324.4 L480.0,324.5 L480.6,324.1 L481.2,323.5 L481.8,322.7 L482.4,322.1 L483.0,321.6 L483.6,321.4 L484.2,321.6 L484.8,322.2 L485.4,322.9 L486.0,323.8 L486.6,324.6 L487.2,325.0 L487.8,325.0 L488.4,324.8 L489.0,324.4 L489.6,323.9 L490.2,323.5 L490.8,323.2 L491.4,323.1 L492.0,323.2 L492.6,323.5 L493.2,323.8 L493.8,324.3 L494.4,324.7 L495.0,325.1 L495.6,325.4 L496.2,325.4 L496.8,325.2 L497.4,325.0 L498.0,324.7 L498.6,324.4 L499.2,324.2 L499.8,324.1 L500.4,324.2 L501.0,324.4 L501.6,324.7 L502.2,325.1 L502.8,325.4 L503.4,325.7 L504.0,325.8 L504.6,325.7 L505.2,325.5 L505.8,325.2 L506.4,324.9 L507.0,324.8 L507.6,324.7 L508.2,324.8 L508.8,325.0 L509.4,325.3 L510.0,325.6 L510.6,325.9 L511.2,326.1 L511.8,326.2 L512.4,326.1 L513.0,325.9 L513.6,325.7 L514.2,325.5 L514.8,325.4 L515.4,325.3 L516.0,325.3 L516.6,325.3 L517.2,325.4 L517.8,325.5 L518.4,325.6 L518.5,325.7" stroke="#2222c4"/><path d="M305.0,334.8 L305.8,334.6 L306.6,334.5 L307.4,334.3 L308.2,334.1 L309.0,334.0 L309.8,333.8 L310.6,333.7 L311.4,333.5 L312.2,333.4 L313.0,333.2 L313.8,333.1 L314.6,333.0 L315.4,332.8 L316.2,332.7 L317.0,332.6 L317.8,332.4 L318.6,332.3 L319.4,332.1 L320.2,331.9 L321.0,331.8 L321.8,331.6 L322.6,331.4 L323.4,331.2 L324.2,331.0 L325.0,330.6 L325.8,329.9 L326.6,329.1 L327.4,328.4 L328.2,327.7 L329.0,327.0 L329.8,326.4 L330.6,325.9 L331.4,325.4 L332.2,324.7 L333.0,324.0 L333.8,323.5 L334.6,323.0 L335.4,322.7 L336.2,322.6 L337.0,322.9 L337.8,323.5 L338.6,324.2 L339.4,324.5 L340.2,323.9 L341.0,322.5 L341.8,321.2 L342.6,321.2 L343.4,322.4 L344.2,323.5 L345.0,323.7 L345.8,323.3 L346.6,322.9 L347.4,322.4 L348.2,321.9 L349.0,321.4 L349.8,320.8 L350.6,320.2 L351.4,319.6 L352.2,319.0 L353.0,318.3 L353.8,317.6 L354.6,316.7 L355.4,315.7 L356.2,314.6 L357.0,313.3 L357.8,311.9 L358.6,310.3 L359.4,308.4 L360.2,306.2 L361.0,303.9 L361.2,303.3 L361.4,302.7 L361.6,302.0 L361.8,301.3 L362.0,300.5 L362.2,299.6 L362.4,298.6 L362.6,297.5 L362.8,296.2 L363.0,294.8 L363.2,293.4 L363.4,291.9 L363.6,290.4 L363.8,288.9 L364.0,287.2 L364.2,285.1 L364.4,282.1 L364.6,276.7 L364.8,271.2 L365.0,268.7 L365.2,271.1 L365.4,276.6 L365.6,282.0 L365.8,285.2 L366.0,287.4 L366.2,289.3 L366.4,291.0 L366.6,292.8 L366.8,294.5 L367.0,296.1 L367.2,297.6 L367.4,298.9 L367.6,299.9 L367.8,300.8 L368.0,301.6 L368.2,302.4 L368.4,303.1 L368.6,303.8 L368.8,304.4 L369.0,305.0 L369.6,306.3 L370.2,307.3 L370.8,308.2 L371.4,308.9 L372.0,309.8 L372.6,310.8 L373.2,311.6 L373.8,312.1 L374.4,312.6 L375.0,312.9 L375.6,313.3 L376.2,313.7 L376.8,314.2 L377.4,314.7 L378.0,315.2 L378.6,315.6 L379.2,316.0 L379.8,316.2 L380.4,316.4 L381.0,316.5 L381.6,316.7 L382.2,316.9 L382.8,317.2 L383.4,317.8 L384.0,318.6 L384.6,319.4 L385.2,320.2 L385.8,321.4 L386.4,322.5 L387.0,323.2 L387.6,323.0 L388.2,322.6 L388.8,322.0 L389.4,321.7 L390.0,321.7 L390.6,322.4 L391.2,323.4 L391.8,324.4 L392.4,325.0 L393.0,324.7 L393.6,323.7 L394.2,322.2 L394.8,320.1 L395.4,317.3 L396.0,315.4 L396.6,313.9 L397.2,312.6 L397.8,311.9 L398.4,311.5 L399.0,311.3 L399.6,311.1 L400.2,310.8 L400.8,310.4 L401.4,309.8 L402.0,309.1 L402.6,308.4 L403.2,307.5 L403.8,306.3 L404.4,305.0 L405.0,303.6 L405.6,302.3 L406.2,301.3 L406.8,300.3 L407.4,299.5 L408.0,298.7 L408.6,298.1 L409.2,297.5 L409.8,297.1 L410.4,297.0 L411.0,297.4 L411.6,297.9 L412.2,298.5 L412.8,299.2 L413.4,300.1 L414.0,301.1 L414.6,302.3 L415.2,303.5 L415.8,304.9 L416.4,306.6 L417.0,308.8 L417.6,311.0 L418.2,312.9 L418.8,314.0 L419.4,314.1 L420.0,313.4 L420.6,312.2 L421.2,311.2 L421.8,310.4 L422.4,310.1 L423.0,310.6 L423.6,311.8 L424.2,313.5 L424.8,315.5 L425.4,317.9 L426.0,320.2 L426.6,322.0 L427.2,322.9 L427.8,322.9 L428.4,321.9 L429.0,320.4 L429.6,318.8 L430.2,317.5 L430.8,316.6 L431.4,316.2 L432.0,316.7 L432.6,317.8 L433.2,319.5 L433.8,321.4 L434.4,323.7 L435.0,325.5 L435.6,326.7 L436.2,326.8 L436.8,326.1 L437.4,324.7 L438.0,323.1 L438.6,321.7 L439.2,320.6 L439.8,319.9 L440.4,319.7 L441.0,320.4 L441.6,321.7 L442.2,323.3 L442.8,325.2 L443.4,327.2 L444.0,328.7 L444.6,329.5 L445.2,329.3 L445.8,328.4 L446.4,327.0 L447.0,325.4 L447.6,324.2 L448.2,323.3 L448.8,322.7 L449.4,322.9 L450.0,323.7 L450.6,324.9 L451.2,326.4 L451.8,328.3 L452.4,330.0 L453.0,331.4 L453.6,332.1 L454.2,331.9 L454.8,330.7 L455.4,329.0 L456.0,327.4 L456.6,326.1 L457.2,325.2 L457.8,325.0 L458.4,325.6 L459.0,326.7 L459.6,328.1 L460.2,329.7 L460.8,331.5 L461.4,332.8 L462.0,333.4 L462.6,333.3 L463.2,332.6 L463.8,331.4 L464.4,330.1 L465.0,329.1 L465.6,328.3 L466.2,327.8 L466.8,327.8 L467.4,328.3 L468.0,329.3 L468.6,330.5 L469.2,332.0 L469.8,333.4 L470.4,334.4 L471.0,334.9 L471.6,334.6 L472.2,333.7 L472.8,332.4 L473.4,331.2 L474.0,330.3 L474.6,329.7 L475.2,329.7 L475.8,330.0 L476.4,330.7 L477.0,331.6 L477.6,332.6 L478.2,333.7 L478.8,334.6 L479.4,335.1 L480.0,335.3 L480.6,334.9 L481.2,334.2 L481.8,333.3 L482.4,332.7 L483.0,332.2 L483.6,331.9 L484.2,332.1 L484.8,332.6 L485.4,333.3 L486.0,334.2 L486.6,335.1 L487.2,335.7 L487.8,335.7 L488.4,335.5 L489.0,335.0 L489.6,334.5 L490.2,334.1 L490.8,333.8 L491.4,333.6 L492.0,333.7 L492.6,333.9 L493.2,334.3 L493.8,334.7 L494.4,335.2 L495.0,335.6 L495.6,335.9 L496.2,336.0 L496.8,335.9 L497.4,335.6 L498.0,335.2 L498.6,334.9 L499.2,334.7 L499.8,334.6 L500.4,334.7 L501.0,334.9 L501.6,335.2 L502.2,335.5 L502.8,335.9 L503.4,336.2 L504.0,336.4 L504.6,336.3 L505.2,336.1 L505.8,335.7 L506.4,335.5 L507.0,335.3 L507.6,335.2 L508.2,335.3 L508.8,335.5 L509.4,335.8 L510.0,336.1 L510.6,336.4 L511.2,336.7 L511.8,336.7 L512.4,336.7 L513.0,336.5 L513.6,336.3 L514.2,336.1 L514.8,335.9 L515.4,335.8 L516.0,335.8 L516.6,335.8 L517.2,335.9 L517.8,336.0 L518.4,336.1 L518.5,336.1" stroke="#dc2632"/><path d="M305.0,345.8 L305.8,345.6 L306.6,345.5 L307.4,345.3 L308.2,345.1 L309.0,345.0 L309.8,344.8 L310.6,344.7 L311.4,344.5 L312.2,344.4 L313.0,344.2 L313.8,344.1 L314.6,344.0 L315.4,343.8 L316.2,343.7 L317.0,343.6 L317.8,343.4 L318.6,343.3 L319.4,343.1 L320.2,342.9 L321.0,342.8 L321.8,342.6 L322.6,342.4 L323.4,342.2 L324.2,342.0 L325.0,341.6 L325.8,340.9 L326.6,340.1 L327.4,339.4 L328.2,338.7 L329.0,338.0 L329.8,337.4 L330.6,336.9 L331.4,336.4 L332.2,335.7 L333.0,335.0 L333.8,334.5 L334.6,334.0 L335.4,333.7 L336.2,333.6 L337.0,333.9 L337.8,334.5 L338.6,335.2 L339.4,335.5 L340.2,334.9 L341.0,333.5 L341.8,332.2 L342.6,332.2 L343.4,333.4 L344.2,334.5 L345.0,334.7 L345.8,334.3 L346.6,333.9 L347.4,333.4 L348.2,332.9 L349.0,332.4 L349.8,331.8 L350.6,331.2 L351.4,330.6 L352.2,330.0 L353.0,329.3 L353.8,328.6 L354.6,327.7 L355.4,326.7 L356.2,325.6 L357.0,324.3 L357.8,322.9 L358.6,321.3 L359.4,319.4 L360.2,317.2 L361.0,314.9 L361.2,314.3 L361.4,313.7 L361.6,313.0 L361.8,312.3 L362.0,311.5 L362.2,310.6 L362.4,309.6 L362.6,308.5 L362.8,307.2 L363.0,305.8 L363.2,304.4 L363.4,302.9 L363.6,301.4 L363.8,299.9 L364.0,298.2 L364.2,296.1 L364.4,293.1 L364.6,287.7 L364.8,282.2 L365.0,279.7 L365.2,282.1 L365.4,287.6 L365.6,293.0 L365.8,296.2 L366.0,298.4 L366.2,300.3 L366.4,302.0 L366.6,303.8 L366.8,305.5 L367.0,307.1 L367.2,308.6 L367.4,309.9 L367.6,310.9 L367.8,311.8 L368.0,312.6 L368.2,313.4 L368.4,314.1 L368.6,314.8 L368.8,315.4 L369.0,316.0 L369.6,317.3 L370.2,318.3 L370.8,319.2 L371.4,319.9 L372.0,320.8 L372.6,321.8 L373.2,322.6 L373.8,323.1 L374.4,323.6 L375.0,323.9 L375.6,324.3 L376.2,324.7 L376.8,325.2 L377.4,325.7 L378.0,326.2 L378.6,326.6 L379.2,327.0 L379.8,327.2 L380.4,327.4 L381.0,327.5 L381.6,327.7 L382.2,327.9 L382.8,328.2 L383.4,328.8 L384.0,329.6 L384.6,330.4 L385.2,331.2 L385.8,332.4 L386.4,333.5 L387.0,334.2 L387.6,334.0 L388.2,333.6 L388.8,333.0 L389.4,332.7 L390.0,332.7 L390.6,333.4 L391.2,334.4 L391.8,335.4 L392.4,336.0 L393.0,335.7 L393.6,334.7 L394.2,333.2 L394.8,331.1 L395.4,328.3 L396.0,326.4 L396.6,324.9 L397.2,323.6 L397.8,322.9 L398.4,322.5 L399.0,322.3 L399.6,322.1 L400.2,321.8 L400.8,321.4 L401.4,320.8 L402.0,320.1 L402.6,319.4 L403.2,318.5 L403.8,317.3 L404.4,316.0 L405.0,314.6 L405.6,313.3 L406.2,312.3 L406.8,311.3 L407.4,310.5 L408.0,309.7 L408.6,309.1 L409.2,308.5 L409.8,308.1 L410.4,308.0 L411.0,308.4 L411.6,308.9 L412.2,309.5 L412.8,310.2 L413.4,311.1 L414.0,312.1 L414.6,313.3 L415.2,314.5 L415.8,315.9 L416.4,317.6 L417.0,319.9 L417.6,322.2 L418.2,324.3 L418.8,325.6 L419.4,325.6 L420.0,324.8 L420.6,323.3 L421.2,322.2 L421.8,321.4 L422.4,321.1 L423.0,321.6 L423.6,322.8 L424.2,324.5 L424.8,326.5 L425.4,329.2 L426.0,331.9 L426.6,333.9 L427.2,335.0 L427.8,334.8 L428.4,333.6 L429.0,331.7 L429.6,329.8 L430.2,328.5 L430.8,327.6 L431.4,327.2 L432.0,327.7 L432.6,328.8 L433.2,330.5 L433.8,332.5 L434.4,335.1 L435.0,337.3 L435.6,338.6 L436.2,338.8 L436.8,337.8 L437.4,336.2 L438.0,334.2 L438.6,332.7 L439.2,331.6 L439.8,330.9 L440.4,330.7 L441.0,331.4 L441.6,332.7 L442.2,334.3 L442.8,336.4 L443.4,338.7 L444.0,340.5 L444.6,341.4 L445.2,341.1 L445.8,340.0 L446.4,338.3 L447.0,336.4 L447.6,335.2 L448.2,334.3 L448.8,333.7 L449.4,333.9 L450.0,334.7 L450.6,335.9 L451.2,337.4 L451.8,339.5 L452.4,341.6 L453.0,343.2 L453.6,344.0 L454.2,343.7 L454.8,342.3 L455.4,340.2 L456.0,338.4 L456.6,337.1 L457.2,336.2 L457.8,336.0 L458.4,336.6 L459.0,337.7 L459.6,339.1 L460.2,340.9 L460.8,342.9 L461.4,344.5 L462.0,345.2 L462.6,345.0 L463.2,344.1 L463.8,342.7 L464.4,341.1 L465.0,340.1 L465.6,339.3 L466.2,338.8 L466.8,338.8 L467.4,339.3 L468.0,340.3 L468.6,341.5 L469.2,343.2 L469.8,344.9 L470.4,346.1 L471.0,346.6 L471.6,346.2 L472.2,345.1 L472.8,343.5 L473.4,342.2 L474.0,341.3 L474.6,340.7 L475.2,340.7 L475.8,341.0 L476.4,341.7 L477.0,342.6 L477.6,343.6 L478.2,344.9 L478.8,346.0 L479.4,346.6 L480.0,346.8 L480.6,346.3 L481.2,345.4 L481.8,344.3 L482.4,343.7 L483.0,343.2 L483.6,342.9 L484.2,343.1 L484.8,343.6 L485.4,344.3 L486.0,345.3 L486.6,346.3 L487.2,347.0 L487.8,347.1 L488.4,346.8 L489.0,346.2 L489.6,345.5 L490.2,345.1 L490.8,344.8 L491.4,344.6 L492.0,344.7 L492.6,344.9 L493.2,345.3 L493.8,345.7 L494.4,346.3 L495.0,346.8 L495.6,347.2 L496.2,347.2 L496.8,347.0 L497.4,346.7 L498.0,346.2 L498.6,345.9 L499.2,345.7 L499.8,345.6 L500.4,345.7 L501.0,345.9 L501.6,346.2 L502.2,346.6 L502.8,347.0 L503.4,347.4 L504.0,347.6 L504.6,347.4 L505.2,347.1 L505.8,346.7 L506.4,346.5 L507.0,346.3 L507.6,346.2 L508.2,346.3 L508.8,346.5 L509.4,346.8 L510.0,347.1 L510.6,347.5 L511.2,347.8 L511.8,347.9 L512.4,347.8 L513.0,347.6 L513.6,347.3 L514.2,347.1 L514.8,346.9 L515.4,346.8 L516.0,346.8 L516.6,346.8 L517.2,346.9 L517.8,347.0 L518.4,347.1 L518.5,347.2" stroke="#111111"/></g><path d="M405.5,252.7 L405.5,256.3 M403.9,253.6 L407.1,255.4 M407.1,253.6 L403.9,255.4" stroke="#000" stroke-width="1"/><path d="M407.0,263.5 L407.0,267.1 M405.4,264.4 L408.6,266.2 M408.6,264.4 L405.4,266.2" stroke="#000" stroke-width="1"/><path d="M409.7,273.3 L409.7,276.9 M408.1,274.2 L411.3,276.0 M411.3,274.2 L408.1,276.0" stroke="#000" stroke-width="1"/><path d="M410.0,283.9 L410.0,287.5 M408.4,284.8 L411.6,286.6 M411.6,284.8 L408.4,286.6" stroke="#000" stroke-width="1"/><path d="M410.1,294.4 L410.1,298.0 M408.5,295.3 L411.7,297.1 M411.7,295.3 L408.5,297.1" stroke="#000" stroke-width="1"/><path d="M410.1,305.4 L410.1,309.0 M408.5,306.3 L411.7,308.1 M411.7,306.3 L408.5,308.1" stroke="#000" stroke-width="1"/><path d="M305.0,357 V353 M305.0,199.6 V203.6 M335.5,357 V354.5 M335.5,199.6 V202.1 M366.0,357 V353 M366.0,199.6 V203.6 M396.5,357 V354.5 M396.5,199.6 V202.1 M427.0,357 V353 M427.0,199.6 V203.6 M457.5,357 V354.5 M457.5,199.6 V202.1 M488.0,357 V353 M488.0,199.6 V203.6 M305,210.2 h3.5 M517.2,210.2 h-3.5 M305,215.4 h2 M517.2,215.4 h-2 M305,220.6 h3.5 M517.2,220.6 h-3.5 M305,225.8 h2 M517.2,225.8 h-2 M305,231.0 h3.5 M517.2,231.0 h-3.5 M305,236.2 h2 M517.2,236.2 h-2 M305,241.4 h3.5 M517.2,241.4 h-3.5 M305,246.6 h2 M517.2,246.6 h-2 M305,251.8 h3.5 M517.2,251.8 h-3.5 M305,257.0 h2 M517.2,257.0 h-2 M305,262.2 h3.5 M517.2,262.2 h-3.5 M305,267.4 h2 M517.2,267.4 h-2 M305,272.6 h3.5 M517.2,272.6 h-3.5 M305,277.8 h2 M517.2,277.8 h-2 M305,283.0 h3.5 M517.2,283.0 h-3.5 M305,288.2 h2 M517.2,288.2 h-2 M305,293.4 h3.5 M517.2,293.4 h-3.5 M305,298.6 h2 M517.2,298.6 h-2 M305,303.8 h3.5 M517.2,303.8 h-3.5 M305,309.0 h2 M517.2,309.0 h-2 M305,314.2 h3.5 M517.2,314.2 h-3.5 M305,319.4 h2 M517.2,319.4 h-2 M305,324.6 h3.5 M517.2,324.6 h-3.5 M305,329.8 h2 M517.2,329.8 h-2 M305,335.0 h3.5 M517.2,335.0 h-3.5 M305,340.2 h2 M517.2,340.2 h-2 M305,345.4 h3.5 M517.2,345.4 h-3.5 M305,350.6 h2 M517.2,350.6 h-2 M305,355.8 h3.5 M517.2,355.8 h-3.5" stroke="#111" stroke-width="1" fill="none"/><rect x="305" y="199.6" width="212.20000000000005" height="157.4" fill="none" stroke="#111" stroke-width="1.3"/><text x="304.7" y="371.4" text-anchor="middle" font-size="13.4">3.9</text><text x="365.7" y="371.4" text-anchor="middle" font-size="13.4">4.0</text><text x="426.7" y="371.4" text-anchor="middle" font-size="13.4">4.1</text><text x="487.7" y="371.4" text-anchor="middle" font-size="13.4">4.2</text><text x="373.8" y="383.4" font-size="13.5" textLength="46.0" lengthAdjust="spacingAndGlyphs">L (r.l.u.)</text><text transform="translate(288.6,317.2) rotate(-90)" font-size="13" textLength="85.5" lengthAdjust="spacingAndGlyphs">Intensity (a.u.)</text><path d="M461.9,213.8 h11.3" stroke="#1a1a66" stroke-width="1.4"/><text x="475.6" y="217.4" font-size="11">+2.5 V</text><path d="M461.9,227.2 h11.3" stroke="#2b7f2b" stroke-width="1.4"/><text x="475.6" y="230.8" font-size="11">+2.0 V</text><path d="M461.9,240.6 h11.3" stroke="#d62ed6" stroke-width="1.4"/><text x="475.6" y="244.2" font-size="11">+1.5 V</text><path d="M461.9,254.0 h11.3" stroke="#dc2632" stroke-width="1.4"/><text x="475.6" y="257.6" font-size="11">+0.5 V</text><path d="M461.9,267.4 h11.3" stroke="#2222c4" stroke-width="1.4"/><text x="475.6" y="271.0" font-size="11">+1.0 V</text><path d="M461.9,280.8 h11.3" stroke="#111111" stroke-width="1.4"/><text x="475.6" y="284.4" font-size="11">+0.0 V</text><text x="309.5" y="216.8" font-size="19">(c)</text></svg></body></html>
